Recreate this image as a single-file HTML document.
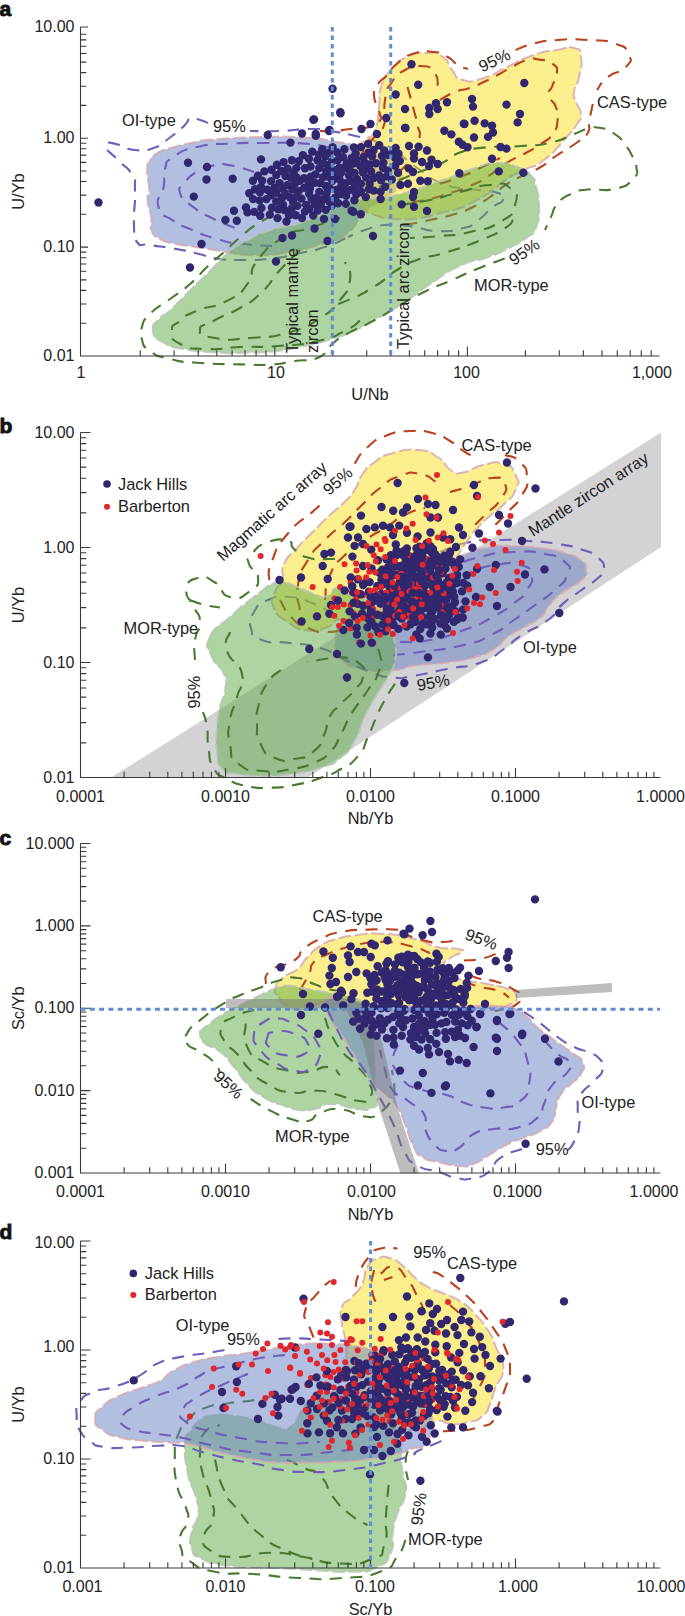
<!DOCTYPE html>
<html><head><meta charset="utf-8"><title>Figure</title>
<style>html,body{margin:0;padding:0;background:#fff}svg{display:block}text{font-family:"Liberation Sans",sans-serif;fill:#222222}</style></head>
<body><svg width="685" height="1616" viewBox="0 0 685 1616">
<rect width="685" height="1616" fill="#fff"/>
<g id="panel_a">
<text x="-0.5" y="16" font-size="21" text-anchor="start" font-weight="bold" style="fill:#111;stroke:#111;stroke-width:0.9px">a</text>
<path d="M147.2 170C147.4 160 146.6 166.7 150 161C153.4 155.3 150.1 157.4 157.4 153C164.7 148.6 160.2 151.2 171.8 147.8C183.4 144.4 178.1 145.5 192.2 142.7C206.3 139.9 190.1 141.4 214 139.5C237.9 137.6 233.7 137.7 264 137C294.3 136.3 282.3 136.2 305 137.5C327.7 138.8 313.7 137.8 332 141C350.3 144.2 342.3 142 360 147C377.7 152 371.7 148.3 385 156C398.3 163.7 395.7 160 400 170C404.3 180 403 176.7 398 186C393 195.3 396 189.3 385 198C374 206.7 378.3 199.7 365 212C351.7 224.3 360.7 224 345 235C329.3 246 339.3 238.8 318 245C296.7 251.2 304.7 250.2 281 253.5C257.3 256.8 265 255.5 247 255C229 254.5 244 254.7 227 252C210 249.3 213 249.7 196 247C179 244.3 188.2 246.7 176 244C163.8 241.3 167.7 243.5 159.5 238.8C151.3 234.1 154.2 236.9 151.5 230C148.8 223.1 152.6 228 151.3 218C150 208 148.2 209 147.5 200C146.8 191 149.4 201 149.3 191C149.2 181 147 180 147.2 170Z" fill="#6880c4" fill-opacity="0.5"/>
<path d="M147.2 170C147.4 160 146.6 166.7 150 161C153.4 155.3 150.1 157.4 157.4 153C164.7 148.6 160.2 151.2 171.8 147.8C183.4 144.4 178.1 145.5 192.2 142.7C206.3 139.9 190.1 141.4 214 139.5C237.9 137.6 233.7 137.7 264 137C294.3 136.3 282.3 136.2 305 137.5C327.7 138.8 313.7 137.8 332 141C350.3 144.2 342.3 142 360 147C377.7 152 371.7 148.3 385 156C398.3 163.7 395.7 160 400 170C404.3 180 403 176.7 398 186C393 195.3 396 189.3 385 198C374 206.7 378.3 199.7 365 212C351.7 224.3 360.7 224 345 235C329.3 246 339.3 238.8 318 245C296.7 251.2 304.7 250.2 281 253.5C257.3 256.8 265 255.5 247 255C229 254.5 244 254.7 227 252C210 249.3 213 249.7 196 247C179 244.3 188.2 246.7 176 244C163.8 241.3 167.7 243.5 159.5 238.8C151.3 234.1 154.2 236.9 151.5 230C148.8 223.1 152.6 228 151.3 218C150 208 148.2 209 147.5 200C146.8 191 149.4 201 149.3 191C149.2 181 147 180 147.2 170Z" fill="none" stroke="#d6a8b0" stroke-width="2" stroke-dasharray="13 3.5" stroke-opacity="0.85"/>
<path d="M398 152C392 149 392.7 148 380 143C367.3 138 376.7 141 360 137C343.3 133 346.7 133.7 330 131C313.3 128.3 326.7 129 310 129C293.3 129 300 130.3 280 131C260 131.7 260 131 250 131" fill="none" stroke="#6f5fb9" stroke-width="2.1" stroke-dasharray="12 8.5" stroke-dashoffset="0" stroke-linecap="butt"/>
<path d="M398 152C405.3 158 404.7 159.3 420 170C435.3 180.7 427.3 177.7 444 184C460.7 190.3 452 186 470 189C488 192 487 189.3 498 193C509 196.7 504.7 195.3 503 200C501.3 204.7 501.7 200 493 207C484.3 214 487 214 477 221C467 228 476.3 224.7 463 228C449.7 231.3 455 231.7 437 231C419 230.3 426.3 228 409 226C391.7 224 399.7 223.7 385 225C370.3 226.3 377.3 226 365 230C352.7 234 353.7 234.7 348 237" fill="none" stroke="#6f5fb9" stroke-width="2.1" stroke-dasharray="12 8.5" stroke-dashoffset="0" stroke-linecap="butt"/>
<path d="M208 123C205.3 122 205.7 121.7 200 120C194.3 118.3 196.3 116 191 118C185.7 120 191 119.5 184 126C177 132.5 179.7 130.3 170 137.5C160.3 144.7 166.7 143.3 155 147.5C143.3 151.7 146.7 150.8 135 150C123.3 149.2 131.7 148 120 145C108.3 142 106.7 142.3 100 141" fill="none" stroke="#6f5fb9" stroke-width="2.1" stroke-dasharray="12 8.5" stroke-dashoffset="0" stroke-linecap="butt"/>
<path d="M107 150C111.3 154 111.7 153.7 120 162C128.3 170.3 127 165.7 132 175C137 184.3 134.3 173.3 135 190C135.7 206.7 133.3 207.7 134 225C134.7 242.3 131.7 235.3 137 242C142.3 248.7 137.8 242.8 150 245C162.2 247.2 157.8 245.7 173.5 248.5C189.2 251.3 182.5 250.2 197 253.5C211.5 256.8 202.3 256.3 217 258.5C231.7 260.7 223 260 241 260C259 260 252 260.7 271 258.5C290 256.3 280 257.3 298 253.5C316 249.7 308.3 252.5 325 247C341.7 241.5 340.3 240.3 348 237" fill="none" stroke="#6f5fb9" stroke-width="2.1" stroke-dasharray="12 8.5" stroke-dashoffset="0" stroke-linecap="butt"/>
<path d="M330 148C321.5 146.5 326.6 145.3 304.6 143.6C282.6 141.9 288.6 143 264 143C239.4 143 253 142.3 230.7 143.6C208.4 144.9 216 142.5 197 147C178 151.5 184.3 149.7 173.6 157C162.9 164.3 168.3 158.8 165 168.8C161.7 178.8 165.8 174.3 163.6 187C161.4 199.7 155.2 195.7 158.5 207C161.8 218.3 163.1 213.5 173.6 220.8C184.1 228.1 175.5 222.9 190 229C204.5 235.1 199 234 217 239C235 244 224.7 241.7 244 244C263.3 246.3 264.7 245.3 275 246" fill="none" stroke="#6f5fb9" stroke-width="2.1" stroke-dasharray="12 8.5" stroke-dashoffset="0" stroke-linecap="butt"/>
<path d="M254 172C246.2 169.8 244 167.6 230.7 165.4C217.4 163.2 225.2 163.2 214 165.4C202.8 167.6 206.5 166.5 197 172C187.5 177.5 190.9 174.7 185.4 182C179.9 189.3 177.6 185.5 180.4 194C183.2 202.5 183.7 199.6 193.8 207.4C203.9 215.2 196.9 210.6 210.6 217.5C224.3 224.4 226.9 224.5 235 228" fill="none" stroke="#6f5fb9" stroke-width="2.1" stroke-dasharray="12 8.5" stroke-dashoffset="0" stroke-linecap="butt"/>
<path d="M349 180C348.3 171 347.7 175 349 165C350.3 155 347.7 158.3 353 150C358.3 141.7 357.7 146.7 365 140C372.3 133.3 370.3 141 375 130C379.7 119 377 121.3 379 107C381 92.7 377 99.3 381 87C385 74.7 382.3 80 391 70C399.7 60 395 62.7 407 57C419 51.3 415 53 427 53C439 53 434.7 51.3 443 57C451.3 62.7 445.3 62.3 452 70C458.7 77.7 452.3 77.3 463 80C473.7 82.7 469.3 82.3 484 78C498.7 73.7 490.3 74.7 507 67C523.7 59.3 517.3 60.7 534 55C550.7 49.3 543.7 52.3 557 50C570.3 47.7 566 45.7 574 48C582 50.3 579.3 47.3 581 57C582.7 66.7 581.3 65.3 579 77C576.7 88.7 575 83.7 574 92C573 100.3 573.7 94.7 576 102C578.3 109.3 580.7 106.7 581 114C581.3 121.3 582.7 115.3 577 124C571.3 132.7 575 128 564 140C553 152 557.3 150 544 160C530.7 170 536.3 163.7 524 170C511.7 176.3 518.3 171.7 507 179C495.7 186.3 501.3 184.3 490 192C478.7 199.7 484 196.3 473 202C462 207.7 468 205.3 457 209C446 212.7 452.3 210 440 213C427.7 216 434.3 216 420 218C405.7 220 412 220 397 219C382 218 387.3 219.3 375 215C362.7 210.7 368 213.7 360 206C352 198.3 354.7 200.7 351 192C347.3 183.3 349.7 189 349 180Z" fill="#f7dd19" fill-opacity="0.5"/>
<path d="M349 180C348.3 171 347.7 175 349 165C350.3 155 347.7 158.3 353 150C358.3 141.7 357.7 146.7 365 140C372.3 133.3 370.3 141 375 130C379.7 119 377 121.3 379 107C381 92.7 377 99.3 381 87C385 74.7 382.3 80 391 70C399.7 60 395 62.7 407 57C419 51.3 415 53 427 53C439 53 434.7 51.3 443 57C451.3 62.7 445.3 62.3 452 70C458.7 77.7 452.3 77.3 463 80C473.7 82.7 469.3 82.3 484 78C498.7 73.7 490.3 74.7 507 67C523.7 59.3 517.3 60.7 534 55C550.7 49.3 543.7 52.3 557 50C570.3 47.7 566 45.7 574 48C582 50.3 579.3 47.3 581 57C582.7 66.7 581.3 65.3 579 77C576.7 88.7 575 83.7 574 92C573 100.3 573.7 94.7 576 102C578.3 109.3 580.7 106.7 581 114C581.3 121.3 582.7 115.3 577 124C571.3 132.7 575 128 564 140C553 152 557.3 150 544 160C530.7 170 536.3 163.7 524 170C511.7 176.3 518.3 171.7 507 179C495.7 186.3 501.3 184.3 490 192C478.7 199.7 484 196.3 473 202C462 207.7 468 205.3 457 209C446 212.7 452.3 210 440 213C427.7 216 434.3 216 420 218C405.7 220 412 220 397 219C382 218 387.3 219.3 375 215C362.7 210.7 368 213.7 360 206C352 198.3 354.7 200.7 351 192C347.3 183.3 349.7 189 349 180Z" fill="none" stroke="#d6a8b0" stroke-width="2" stroke-dasharray="13 3.5" stroke-opacity="0.85"/>
<path d="M320 131C325 131 325 131.7 335 131C345 130.3 339.3 130.2 350 129C360.7 127.8 357.3 129.8 367 127.5C376.7 125.2 375 127.6 379 122C383 116.4 380.7 119.5 379 110.7C377.3 101.9 374.3 104.5 374 95.6C373.7 86.7 373.7 90.7 378 84C382.3 77.3 380.7 82.2 387 75.4C393.3 68.6 388 71 397 63.7C406 56.4 401.7 57.5 414 53.6C426.3 49.7 422.7 50.9 434 52C445.3 53.1 439.9 52.7 447.8 57C455.7 61.3 451.1 61 457.8 65C464.5 69 464.6 67.7 468 69" fill="none" stroke="#b8431e" stroke-width="2.1" stroke-dasharray="12 8.5" stroke-dashoffset="0" stroke-linecap="butt"/>
<path d="M515.6 50C521.7 47.8 520 46.8 534 43.5C548 40.2 539.6 41.2 557.5 40C575.4 38.8 568.7 38.8 587.7 40C606.7 41.2 601.2 39 614.6 43.5C628 48 624.2 45.8 628 53.6C631.8 61.4 632.7 59.2 626 67C619.3 74.8 617.7 69.3 608 77C598.3 84.7 600.7 85.7 597 90" fill="none" stroke="#b8431e" stroke-width="2.1" stroke-dasharray="12 8.5" stroke-dashoffset="0" stroke-linecap="butt"/>
<path d="M592.8 104C591.7 109.6 591.1 111 589.4 120.7C587.7 130.4 591.6 125.9 587.7 133C583.8 140.1 587.8 134.7 577.7 142C567.6 149.3 569.8 146.7 557.5 155C545.2 163.3 551.9 160.3 540.7 167C529.5 173.7 535.2 169.3 524 175C512.8 180.7 518.3 176.7 507 184C495.7 191.3 501.3 189.3 490 197C478.7 204.7 484.7 201.3 473 207C461.3 212.7 469.3 209.7 455 214C440.7 218.3 446.7 216.3 430 220C413.3 223.7 413.3 223.3 405 225" fill="none" stroke="#b8431e" stroke-width="2.1" stroke-dasharray="12 8.5" stroke-dashoffset="0" stroke-linecap="butt"/>
<path d="M365 200C362.7 195 359.7 198.3 358 185C356.3 171.7 355.3 175 360 160C364.7 145 364 151.7 372 140C380 128.3 379.7 138.3 384 125C388.3 111.7 382.3 114.3 385 100C387.7 85.7 385.3 92 392 82C398.7 72 395.7 75.3 405 70C414.3 64.7 410.3 65.3 420 66C429.7 66.7 428 64.7 434 72C440 79.3 436.7 82.7 438 88" fill="none" stroke="#b8431e" stroke-width="2.1" stroke-dasharray="12 8.5" stroke-dashoffset="0" stroke-linecap="butt"/>
<path d="M440 100C445 97.3 445 96 455 92C465 88 460.4 91.3 470 88C479.6 84.7 474.7 86.2 483.7 82C492.7 77.8 487.6 80.4 497 75.4C506.4 70.4 502 72.1 512 67C522 61.9 518 62.5 527 60C536 57.5 530.5 58.4 539 59.6C547.5 60.8 546.5 59 552.5 63.7C558.5 68.4 556.9 66.4 556.9 73.7C556.9 81 555.1 78.2 552.5 85.5C549.9 92.8 547.9 88.4 549 95.6C550.1 102.8 553.1 98.6 555.9 107C558.7 115.4 558.6 111.7 557.5 120.7C556.4 129.7 558.1 126.2 552.5 134C546.9 141.8 550.2 137.3 540.7 144C531.2 150.7 535.2 147.8 524 154C512.8 160.2 518.3 155.7 507 162.7C495.7 169.7 502.3 167.2 490 175C477.7 182.8 483.3 180 470 186C456.7 192 465 188.3 450 193C435 197.7 441.7 196.3 425 200C408.3 203.7 408.3 202.7 400 204" fill="none" stroke="#b8431e" stroke-width="2.1" stroke-dasharray="12 8.5" stroke-dashoffset="0" stroke-linecap="butt"/>
<path d="M407.5 87C409.7 94.9 410.7 98 414 110.7C417.3 123.4 415.8 115.2 417.5 125C419.2 134.8 421.5 128.3 419 140C416.5 151.7 418 148.3 410 160C402 171.7 400 170 395 175" fill="none" stroke="#b8431e" stroke-width="2.1" stroke-dasharray="12 8.5" stroke-dashoffset="0" stroke-linecap="butt"/>
<path d="M440 183.8C446.7 181.5 446.7 182.3 460 177C473.3 171.7 466.7 174.3 480 168C493.3 161.7 493.3 161.3 500 158" fill="none" stroke="#b8431e" stroke-width="2.1" stroke-dasharray="12 8.5" stroke-dashoffset="0" stroke-linecap="butt"/>
<path d="M153 331C151.8 322.8 154.3 324.8 160 318C165.7 311.2 160 319.7 170 310.5C180 301.3 176.5 303.8 190 290.5C203.5 277.2 198 282.8 210.5 270.5C223 258.2 215.2 263.7 227.5 253.5C239.8 243.3 233 247.8 247.5 240C262 232.2 254.2 235.5 271 230C287.8 224.5 280 229.2 298 223.5C316 217.8 307.7 220.2 325 213C342.3 205.8 333.3 207 350 202C366.7 197 358.7 200.5 375 198C391.3 195.5 377.3 200.2 399 194.5C420.7 188.8 415.2 189.7 440 181C464.8 172.3 454.5 174.5 473.5 168.5C492.5 162.5 482.5 163.5 497 163C511.5 162.5 505.7 162.8 517 167C528.3 171.2 524.7 168.8 531 175.5C537.3 182.2 533.3 176.5 536 187C538.7 197.5 539 193.5 539 207C539 220.5 540 217.3 536 227.5C532 237.7 536.7 230.3 527 237.5C517.3 244.7 520.3 242.3 507 249C493.7 255.7 502.7 251.8 487 257.5C471.3 263.2 478.8 257.2 460 266C441.2 274.8 448.2 272.5 430.5 284C412.8 295.5 423.8 289.5 407 300.5C390.2 311.5 397.8 306.8 380 317C362.2 327.2 369.7 323.7 353.5 331C337.3 338.3 347.8 334 331.5 339C315.2 344 322.5 342 304.5 346C286.5 350 295.3 348.8 277.5 351C259.7 353.2 271.2 352 251 352.5C230.8 353 239.5 353.7 217 352.5C194.5 351.3 201.3 352.3 183.5 349C165.7 345.7 173.7 348.5 163.5 342.5C153.3 336.5 154.2 339.2 153 331Z" fill="#5ea945" fill-opacity="0.5"/>
<path d="M153 331C151.8 322.8 154.3 324.8 160 318C165.7 311.2 160 319.7 170 310.5C180 301.3 176.5 303.8 190 290.5C203.5 277.2 198 282.8 210.5 270.5C223 258.2 215.2 263.7 227.5 253.5C239.8 243.3 233 247.8 247.5 240C262 232.2 254.2 235.5 271 230C287.8 224.5 280 229.2 298 223.5C316 217.8 307.7 220.2 325 213C342.3 205.8 333.3 207 350 202C366.7 197 358.7 200.5 375 198C391.3 195.5 377.3 200.2 399 194.5C420.7 188.8 415.2 189.7 440 181C464.8 172.3 454.5 174.5 473.5 168.5C492.5 162.5 482.5 163.5 497 163C511.5 162.5 505.7 162.8 517 167C528.3 171.2 524.7 168.8 531 175.5C537.3 182.2 533.3 176.5 536 187C538.7 197.5 539 193.5 539 207C539 220.5 540 217.3 536 227.5C532 237.7 536.7 230.3 527 237.5C517.3 244.7 520.3 242.3 507 249C493.7 255.7 502.7 251.8 487 257.5C471.3 263.2 478.8 257.2 460 266C441.2 274.8 448.2 272.5 430.5 284C412.8 295.5 423.8 289.5 407 300.5C390.2 311.5 397.8 306.8 380 317C362.2 327.2 369.7 323.7 353.5 331C337.3 338.3 347.8 334 331.5 339C315.2 344 322.5 342 304.5 346C286.5 350 295.3 348.8 277.5 351C259.7 353.2 271.2 352 251 352.5C230.8 353 239.5 353.7 217 352.5C194.5 351.3 201.3 352.3 183.5 349C165.7 345.7 173.7 348.5 163.5 342.5C153.3 336.5 154.2 339.2 153 331Z" fill="none" stroke="#b9c4b4" stroke-width="2" stroke-dasharray="13 3.5" stroke-opacity="0.85"/>
<path d="M504.6 258.6C495.6 262 495.6 261.4 477.7 268.7C459.8 276 468.9 272.6 451 280.4C433.1 288.2 442 283.1 424 292C406 300.9 413.8 297.4 397 307C380.2 316.6 390.3 311.7 373.6 320.7C356.9 329.7 361.3 325.6 346.8 334C332.3 342.4 339.6 338.1 330 346C320.4 353.9 329.8 352.7 318 357.7C306.2 362.7 310.2 358.8 294.5 361C278.8 363.2 288.9 363.3 271 364.4C253.1 365.5 265.5 365 240.8 364.4C216.1 363.8 220.6 364.5 197 362.7C173.4 360.9 185.7 362.9 170 359C154.3 355.1 159.4 357.7 150 351C140.6 344.3 144.5 346.8 141.8 339C139.1 331.2 139.1 335.8 141.8 327.5C144.5 319.2 140.6 323.5 150 314C159.4 304.5 156.5 309.1 170 299C183.5 288.9 178.1 294.5 190.4 283.8C202.7 273.1 195.8 277.6 207 267C218.2 256.4 212.7 262.1 224 252C235.3 241.9 229.1 246.5 240.8 236.8C252.5 227.1 245.3 231.3 259 223C272.7 214.7 266.7 218.3 282 212C297.3 205.7 289.7 208.8 305 204C320.3 199.2 313 201.2 328 197.5C343 193.8 332 196.8 350 193C368 189.2 365.7 190.3 382 186C398.3 181.7 386.7 184.7 399 180C411.3 175.3 407.3 176.3 419 172C430.7 167.7 425.7 170.3 434 167C442.3 163.7 435.3 166.8 444 162C452.7 157.2 446.8 157.4 460 152.6C473.2 147.8 463 149.8 483.7 147.6C504.4 145.4 499.6 147.7 522 146C544.4 144.3 533.5 146.6 550.8 142.6C568.1 138.6 561.7 138.5 574 134C586.3 129.5 578.7 131 587.7 129C596.7 127 592 126.3 601 128C610 129.7 606.7 128.7 614.6 134C622.5 139.3 618.6 136.1 624.7 144C630.8 151.9 629.1 150 633 157.7C636.9 165.4 636.4 160 636.4 167C636.4 174 640.3 171.5 633 178.8C625.7 186.1 629.7 185.2 614.6 188.8C599.5 192.4 602.2 187.8 587.7 189.5C573.2 191.2 581.1 189.2 571 194C560.9 198.8 564.2 196.2 557.5 204C550.8 211.8 555 208.7 550.8 217.4C546.6 226.1 546.9 225.8 545 230" fill="none" stroke="#4a7a32" stroke-width="2.1" stroke-dasharray="12 8.5" stroke-dashoffset="0" stroke-linecap="butt"/>
<path d="M513 220C510.2 222.8 515.3 221.7 504.6 228.4C493.9 235.1 500 232.1 481 240C462 247.9 468.8 245.3 447.5 252C426.2 258.7 433.8 254 417 260C400.2 266 411.5 261 397 270C382.5 279 390.3 276.8 373.6 287C356.9 297.2 361.3 294.4 346.8 300.6C332.3 306.8 335.6 303.9 330 305.6" fill="none" stroke="#4a7a32" stroke-width="2.1" stroke-dasharray="12 8.5" stroke-dashoffset="0" stroke-linecap="butt"/>
<path d="M360 320.7C355 324.1 359 324 345 330.8C331 337.6 340.4 335.9 318 341C295.6 346.1 303.4 344 277.7 346C252 348 264.4 346 240.8 347C217.2 348 227.1 350 207 349C186.9 348 192.1 350.1 180.4 344C168.7 337.9 172 338.6 172 330.8C172 323 172.1 327.4 180.4 320.7C188.7 314 181.3 317.4 197 310.7C212.7 304 210.6 309.6 227.4 300.6C244.2 291.6 237.4 297.2 247.5 283.8C257.6 270.4 245.3 276 257.6 260.3C269.9 244.6 267 247.6 284.5 236.8C302 226 291.5 234.3 310 228C328.5 221.7 330 221.3 340 218" fill="none" stroke="#4a7a32" stroke-width="2.1" stroke-dasharray="12 8.5" stroke-dashoffset="0" stroke-linecap="butt"/>
<path d="M300 250C293.3 256.7 292.7 256 280 270C267.3 284 275.3 279.3 262 292C248.7 304.7 255.7 298.7 240 308C224.3 317.3 228.3 312.7 215 320C201.7 327.3 200 324 200 330C200 336 198.3 335.3 215 338C231.7 340.7 225 340 250 338C275 336 266.7 338.7 290 332C313.3 325.3 303.3 328.7 320 318C336.7 307.3 330 312.7 340 300C350 287.3 348.3 292.7 350 280C351.7 267.3 346.7 268 345 262" fill="none" stroke="#4a7a32" stroke-width="2.1" stroke-dasharray="12 8.5" stroke-dashoffset="0" stroke-linecap="butt"/>
<path d="M400 205C410 203.3 410 204.3 430 200C450 195.7 440 197 460 192C480 187 473.3 186.3 490 185C506.7 183.7 501.7 181.3 510 188C518.3 194.7 518.3 193.7 515 205C511.7 216.3 515 213 500 222C485 231 490 227.3 470 232C450 236.7 460 234 440 236C420 238 420 237.3 410 238" fill="none" stroke="#4a7a32" stroke-width="2.1" stroke-dasharray="12 8.5" stroke-dashoffset="0" stroke-linecap="butt"/>
<g stroke="#3a3a3a" stroke-width="1.1" fill="none">
<path d="M80.5 27V356H659.5"/>
<path d="M140.2 356v-5.8M174.1 356v-5.8M198.2 356v-5.8M216.8 356v-5.8M232.1 356v-5.8M245 356v-5.8M256.1 356v-5.8M266 356v-5.8M274.8 356v-9.5M332.8 356v-5.8M366.7 356v-5.8M390.8 356v-5.8M409.4 356v-5.8M424.7 356v-5.8M437.6 356v-5.8M448.7 356v-5.8M458.6 356v-5.8M467.4 356v-9.5M525.4 356v-5.8M559.3 356v-5.8M583.4 356v-5.8M602 356v-5.8M617.3 356v-5.8M630.2 356v-5.8M641.3 356v-5.8M651.2 356v-5.8M80.5 323.2h5.8M80.5 304h5.8M80.5 290.4h5.8M80.5 279.9h5.8M80.5 271.3h5.8M80.5 264h5.8M80.5 257.7h5.8M80.5 252.1h5.8M80.5 247.1h7.5M80.5 214.3h5.8M80.5 195.1h5.8M80.5 181.5h5.8M80.5 171h5.8M80.5 162.4h5.8M80.5 155.1h5.8M80.5 148.8h5.8M80.5 143.2h5.8M80.5 138.2h7.5M80.5 105.4h5.8M80.5 86.2h5.8M80.5 72.6h5.8M80.5 62.1h5.8M80.5 53.5h5.8M80.5 46.2h5.8M80.5 39.9h5.8M80.5 34.3h5.8M80.5 27h7.5"/>
</g>
<text x="81" y="378" font-size="16" text-anchor="middle">1</text>
<text x="276" y="378" font-size="16" text-anchor="middle">10</text>
<text x="466.5" y="378" font-size="16" text-anchor="middle">100</text>
<text x="652" y="378" font-size="16" text-anchor="middle">1,000</text>
<text x="74.5" y="361" font-size="16" text-anchor="end">0.01</text>
<text x="74.5" y="252.1" font-size="16" text-anchor="end">0.10</text>
<text x="74.5" y="143.2" font-size="16" text-anchor="end">1.00</text>
<text x="74.5" y="32" font-size="16" text-anchor="end">10.00</text>
<text x="370" y="400" font-size="16.4" text-anchor="middle">U/Nb</text>
<text x="24" y="191.5" font-size="16.4" text-anchor="middle" transform="rotate(-90 24 191.5)">U/Yb</text>
<g fill="#30276f"><circle cx="98.5" cy="202.5" r="4.2"/><circle cx="190" cy="267.5" r="4.2"/><circle cx="201.5" cy="244" r="4.2"/><circle cx="276" cy="261.5" r="4.2"/><circle cx="282.5" cy="238" r="4.2"/><circle cx="292" cy="235.5" r="4.2"/><circle cx="314.5" cy="228.5" r="4.2"/><circle cx="327.5" cy="241" r="4.2"/><circle cx="188" cy="162.7" r="4.2"/><circle cx="207" cy="167" r="4.2"/><circle cx="206.5" cy="179.5" r="4.2"/><circle cx="232.7" cy="178.8" r="4.2"/><circle cx="193.8" cy="196.6" r="4.2"/><circle cx="261" cy="159.4" r="4.2"/><circle cx="277" cy="164.7" r="4.2"/><circle cx="290.5" cy="142.6" r="4.2"/><circle cx="267.7" cy="135" r="4.2"/><circle cx="302" cy="133.5" r="4.2"/><circle cx="315.7" cy="134" r="4.2"/><circle cx="314" cy="119.4" r="4.2"/><circle cx="340.5" cy="113.4" r="4.2"/><circle cx="329" cy="131" r="4.2"/><circle cx="225.4" cy="220" r="4.2"/><circle cx="234" cy="210.7" r="4.2"/><circle cx="236.8" cy="220.8" r="4.2"/><circle cx="246" cy="207.4" r="4.2"/><circle cx="247.5" cy="212.4" r="4.2"/><circle cx="286.5" cy="221.5" r="4.2"/><circle cx="324" cy="219" r="4.2"/><circle cx="335" cy="219" r="4.2"/><circle cx="351.6" cy="210.7" r="4.2"/><circle cx="373" cy="236" r="4.2"/><circle cx="353.3" cy="211.8" r="4.2"/><circle cx="360.8" cy="214.3" r="4.2"/><circle cx="380.6" cy="199" r="4.2"/><circle cx="401.7" cy="204.4" r="4.2"/><circle cx="414" cy="206.8" r="4.2"/><circle cx="427" cy="211" r="4.2"/><circle cx="414" cy="192" r="4.2"/><circle cx="413" cy="197" r="4.2"/><circle cx="420.3" cy="180.8" r="4.2"/><circle cx="427.8" cy="181.3" r="4.2"/><circle cx="400.5" cy="185" r="4.2"/><circle cx="408" cy="183.8" r="4.2"/><circle cx="391.8" cy="179.5" r="4.2"/><circle cx="408.7" cy="168.4" r="4.2"/><circle cx="413" cy="172" r="4.2"/><circle cx="409" cy="146" r="4.2"/><circle cx="418.6" cy="146.8" r="4.2"/><circle cx="427" cy="150.5" r="4.2"/><circle cx="414" cy="153.5" r="4.2"/><circle cx="414" cy="158.5" r="4.2"/><circle cx="422" cy="162" r="4.2"/><circle cx="431.5" cy="159.7" r="4.2"/><circle cx="429" cy="166" r="4.2"/><circle cx="437.7" cy="164" r="4.2"/><circle cx="459.3" cy="173.3" r="4.2"/><circle cx="405.5" cy="128" r="4.2"/><circle cx="463.8" cy="123.7" r="4.2"/><circle cx="444.4" cy="130.7" r="4.2"/><circle cx="451.4" cy="134.4" r="4.2"/><circle cx="458.8" cy="141.8" r="4.2"/><circle cx="462.5" cy="144.8" r="4.2"/><circle cx="467.5" cy="147.3" r="4.2"/><circle cx="411.5" cy="64.3" r="4.2"/><circle cx="418.2" cy="84.8" r="4.2"/><circle cx="395.7" cy="94.5" r="4.2"/><circle cx="405" cy="109" r="4.2"/><circle cx="405" cy="128" r="4.2"/><circle cx="429.3" cy="108" r="4.2"/><circle cx="436" cy="103.3" r="4.2"/><circle cx="437.7" cy="109" r="4.2"/><circle cx="429.3" cy="114" r="4.2"/><circle cx="447" cy="102.3" r="4.2"/><circle cx="472" cy="99" r="4.2"/><circle cx="473" cy="106.6" r="4.2"/><circle cx="464.5" cy="124" r="4.2"/><circle cx="474.6" cy="120.7" r="4.2"/><circle cx="484.7" cy="123.4" r="4.2"/><circle cx="492" cy="125.8" r="4.2"/><circle cx="493" cy="132.5" r="4.2"/><circle cx="488" cy="136.9" r="4.2"/><circle cx="474" cy="137.5" r="4.2"/><circle cx="500.5" cy="147" r="4.2"/><circle cx="506.5" cy="148.6" r="4.2"/><circle cx="492" cy="158.7" r="4.2"/><circle cx="506.5" cy="104.6" r="4.2"/><circle cx="520" cy="114" r="4.2"/><circle cx="517.6" cy="122.4" r="4.2"/><circle cx="524.3" cy="83" r="4.2"/><circle cx="332.6" cy="88.8" r="4.2"/><circle cx="340.3" cy="112.3" r="4.2"/><circle cx="313.4" cy="119.7" r="4.2"/><circle cx="329.5" cy="130" r="4.2"/><circle cx="315.8" cy="135.9" r="4.2"/><circle cx="361.5" cy="129" r="4.2"/><circle cx="370.5" cy="124" r="4.2"/><circle cx="386.3" cy="118" r="4.2"/><circle cx="377" cy="134" r="4.2"/><circle cx="395.7" cy="148" r="4.2"/><circle cx="395" cy="157.7" r="4.2"/><circle cx="498.8" cy="171.4" r="4.2"/><circle cx="523.3" cy="172.7" r="4.2"/><circle cx="282.1" cy="197.8" r="4.2"/><circle cx="364.6" cy="162.8" r="4.2"/><circle cx="276.4" cy="192.9" r="4.2"/><circle cx="350.4" cy="189.9" r="4.2"/><circle cx="276.3" cy="175.1" r="4.2"/><circle cx="357" cy="179.1" r="4.2"/><circle cx="323.1" cy="177.3" r="4.2"/><circle cx="293.5" cy="172.7" r="4.2"/><circle cx="332.2" cy="181" r="4.2"/><circle cx="314.5" cy="182.7" r="4.2"/><circle cx="341.1" cy="186.5" r="4.2"/><circle cx="371.1" cy="171.5" r="4.2"/><circle cx="261.4" cy="208" r="4.2"/><circle cx="271.1" cy="195.3" r="4.2"/><circle cx="298.7" cy="191" r="4.2"/><circle cx="355.7" cy="153.4" r="4.2"/><circle cx="319.3" cy="191.9" r="4.2"/><circle cx="325.8" cy="186" r="4.2"/><circle cx="328.3" cy="165.3" r="4.2"/><circle cx="346.8" cy="163.2" r="4.2"/><circle cx="398.5" cy="153.8" r="4.2"/><circle cx="354.5" cy="172.9" r="4.2"/><circle cx="366.1" cy="168" r="4.2"/><circle cx="379.1" cy="175.4" r="4.2"/><circle cx="351.3" cy="181.1" r="4.2"/><circle cx="339.7" cy="179.9" r="4.2"/><circle cx="332.9" cy="170" r="4.2"/><circle cx="287.4" cy="185.1" r="4.2"/><circle cx="356.3" cy="194.3" r="4.2"/><circle cx="369.6" cy="184.1" r="4.2"/><circle cx="373.7" cy="178" r="4.2"/><circle cx="335.2" cy="197.7" r="4.2"/><circle cx="301.5" cy="198.6" r="4.2"/><circle cx="369.9" cy="164.5" r="4.2"/><circle cx="384.2" cy="150.4" r="4.2"/><circle cx="330.4" cy="188.8" r="4.2"/><circle cx="363.5" cy="157.2" r="4.2"/><circle cx="331.6" cy="206" r="4.2"/><circle cx="299.8" cy="180.7" r="4.2"/><circle cx="361" cy="191.8" r="4.2"/><circle cx="255" cy="189.2" r="4.2"/><circle cx="349.4" cy="169.4" r="4.2"/><circle cx="308.7" cy="181.8" r="4.2"/><circle cx="383.4" cy="162.6" r="4.2"/><circle cx="305" cy="168.2" r="4.2"/><circle cx="383.1" cy="168" r="4.2"/><circle cx="266.5" cy="199.1" r="4.2"/><circle cx="317.5" cy="160.3" r="4.2"/><circle cx="297.3" cy="205.9" r="4.2"/><circle cx="271.9" cy="207.8" r="4.2"/><circle cx="279.6" cy="183.1" r="4.2"/><circle cx="319.2" cy="168.1" r="4.2"/><circle cx="386.7" cy="176.4" r="4.2"/><circle cx="314.8" cy="204.2" r="4.2"/><circle cx="372.1" cy="156.3" r="4.2"/><circle cx="306.2" cy="204.9" r="4.2"/><circle cx="344.7" cy="190.1" r="4.2"/><circle cx="353.3" cy="163.5" r="4.2"/><circle cx="360.9" cy="184" r="4.2"/><circle cx="361.1" cy="147.1" r="4.2"/><circle cx="304.9" cy="211.6" r="4.2"/><circle cx="335.1" cy="175.1" r="4.2"/><circle cx="310.5" cy="166.5" r="4.2"/><circle cx="309.2" cy="209" r="4.2"/><circle cx="349" cy="175.3" r="4.2"/><circle cx="319.9" cy="183.1" r="4.2"/><circle cx="339.3" cy="167.6" r="4.2"/><circle cx="296.2" cy="177.1" r="4.2"/><circle cx="285.5" cy="176" r="4.2"/><circle cx="315.5" cy="174.5" r="4.2"/><circle cx="304.4" cy="187.7" r="4.2"/><circle cx="326.3" cy="193.7" r="4.2"/><circle cx="278.3" cy="209.3" r="4.2"/><circle cx="340.9" cy="173.1" r="4.2"/><circle cx="382" cy="156" r="4.2"/><circle cx="373.6" cy="150" r="4.2"/><circle cx="310.8" cy="176.6" r="4.2"/><circle cx="308.9" cy="158.8" r="4.2"/><circle cx="260" cy="192.3" r="4.2"/><circle cx="366.1" cy="177.6" r="4.2"/><circle cx="340.8" cy="194" r="4.2"/><circle cx="351.6" cy="158.2" r="4.2"/><circle cx="354.4" cy="200.2" r="4.2"/><circle cx="282.5" cy="188.4" r="4.2"/><circle cx="328.8" cy="176.7" r="4.2"/><circle cx="381.1" cy="180.2" r="4.2"/><circle cx="283" cy="204.7" r="4.2"/><circle cx="311.5" cy="198.8" r="4.2"/><circle cx="298.8" cy="161.2" r="4.2"/><circle cx="376" cy="163.3" r="4.2"/><circle cx="271.1" cy="181.2" r="4.2"/><circle cx="354.9" cy="186.6" r="4.2"/><circle cx="309.2" cy="193.9" r="4.2"/><circle cx="320.8" cy="204.4" r="4.2"/><circle cx="368.9" cy="189.3" r="4.2"/><circle cx="290" cy="197.3" r="4.2"/><circle cx="276.2" cy="201.4" r="4.2"/><circle cx="331.9" cy="161.4" r="4.2"/><circle cx="326.2" cy="171.1" r="4.2"/><circle cx="274.6" cy="187.9" r="4.2"/><circle cx="318.7" cy="154.8" r="4.2"/><circle cx="342.9" cy="157.1" r="4.2"/><circle cx="346.2" cy="195.9" r="4.2"/><circle cx="337.7" cy="160.1" r="4.2"/><circle cx="309.9" cy="188.8" r="4.2"/><circle cx="285" cy="210.2" r="4.2"/><circle cx="356.5" cy="159.6" r="4.2"/><circle cx="399.8" cy="161" r="4.2"/><circle cx="285.4" cy="193.4" r="4.2"/><circle cx="373.8" cy="190.6" r="4.2"/><circle cx="296.3" cy="168.1" r="4.2"/><circle cx="328.9" cy="153" r="4.2"/><circle cx="362.8" cy="172.2" r="4.2"/><circle cx="293.2" cy="202.5" r="4.2"/><circle cx="295.1" cy="183.4" r="4.2"/><circle cx="325.2" cy="156.6" r="4.2"/><circle cx="295.4" cy="197.1" r="4.2"/><circle cx="336.6" cy="189.9" r="4.2"/><circle cx="287.6" cy="168.8" r="4.2"/><circle cx="323.6" cy="199.1" r="4.2"/><circle cx="253.1" cy="199.1" r="4.2"/><circle cx="337.3" cy="152.5" r="4.2"/><circle cx="290.8" cy="177.8" r="4.2"/><circle cx="316.6" cy="197.8" r="4.2"/><circle cx="360.3" cy="166" r="4.2"/><circle cx="345.7" cy="183.1" r="4.2"/><circle cx="344.5" cy="167.8" r="4.2"/><circle cx="261" cy="187.3" r="4.2"/><circle cx="329.1" cy="201.2" r="4.2"/><circle cx="387.9" cy="155.1" r="4.2"/><circle cx="323.2" cy="163.4" r="4.2"/><circle cx="388" cy="170.8" r="4.2"/><circle cx="344.4" cy="149.3" r="4.2"/><circle cx="304.1" cy="178.2" r="4.2"/><circle cx="291.8" cy="208.5" r="4.2"/><circle cx="392.6" cy="152.3" r="4.2"/><circle cx="338.1" cy="203.3" r="4.2"/><circle cx="368.4" cy="152.8" r="4.2"/><circle cx="317.7" cy="210.5" r="4.2"/><circle cx="353.9" cy="147.5" r="4.2"/><circle cx="398" cy="172.7" r="4.2"/><circle cx="365.8" cy="197.1" r="4.2"/><circle cx="295.7" cy="215.2" r="4.2"/><circle cx="252.9" cy="180.7" r="4.2"/><circle cx="262.2" cy="180.7" r="4.2"/><circle cx="313.2" cy="215.5" r="4.2"/><circle cx="385.3" cy="186.7" r="4.2"/><circle cx="281.3" cy="170.9" r="4.2"/><circle cx="260.2" cy="215.7" r="4.2"/><circle cx="277.5" cy="218.1" r="4.2"/><circle cx="325.7" cy="209.9" r="4.2"/><circle cx="283.6" cy="162.1" r="4.2"/><circle cx="269.8" cy="214.6" r="4.2"/><circle cx="264.4" cy="171.4" r="4.2"/><circle cx="254.2" cy="211.9" r="4.2"/><circle cx="395.2" cy="165.8" r="4.2"/><circle cx="289.1" cy="215.4" r="4.2"/><circle cx="379.2" cy="145.2" r="4.2"/><circle cx="322.3" cy="149.3" r="4.2"/><circle cx="345.8" cy="203.9" r="4.2"/><circle cx="271.5" cy="169.8" r="4.2"/><circle cx="312.2" cy="151.6" r="4.2"/><circle cx="259.7" cy="200.4" r="4.2"/><circle cx="291.9" cy="160.2" r="4.2"/><circle cx="368.1" cy="143.9" r="4.2"/><circle cx="302.9" cy="155.3" r="4.2"/><circle cx="292.4" cy="189.3" r="4.2"/><circle cx="267.4" cy="189.7" r="4.2"/><circle cx="332.6" cy="147.3" r="4.2"/><circle cx="380.6" cy="191.6" r="4.2"/><circle cx="257.9" cy="175.7" r="4.2"/><circle cx="249.3" cy="193.2" r="4.2"/><circle cx="302" cy="218" r="4.2"/></g>
<path d="M332.3 27V356" stroke="#628bd0" stroke-width="3" stroke-dasharray="4.5 4" fill="none"/>
<path d="M390.7 27V356" stroke="#628bd0" stroke-width="3" stroke-dasharray="4.5 4" fill="none"/>
<text x="122" y="126" font-size="16.4" text-anchor="start">OI-type</text>
<text x="213" y="132" font-size="16.4" text-anchor="start">95%</text>
<text x="597" y="108" font-size="16.4" text-anchor="start">CAS-type</text>
<text x="474" y="290.5" font-size="16.4" text-anchor="start">MOR-type</text>
<text x="482" y="72.5" font-size="16.4" text-anchor="start" transform="rotate(-25 482 72.5)">95%</text>
<text x="514" y="266" font-size="16.4" text-anchor="start" transform="rotate(-35 514 266)">95%</text>
<text x="298" y="353" font-size="16.4" text-anchor="start" transform="rotate(-90 298 353)">Typical mantle</text>
<text x="318" y="353" font-size="16.4" text-anchor="start" transform="rotate(-90 318 353)">zircon</text>
<text x="409" y="349" font-size="16.4" text-anchor="start" transform="rotate(-90 409 349)">Typical arc zircon</text>
</g>
<g id="panel_b">
<text x="-0.5" y="433" font-size="21" text-anchor="start" font-weight="bold" style="fill:#111;stroke:#111;stroke-width:0.9px">b</text>
<path d="M111 777.5 L661 432.5 L661 547 L308 777.5" fill="#d3d3d5"/>
<path d="M336 637C337.3 625.3 335.3 632.3 345 622C354.7 611.7 348.3 617.3 365 606C381.7 594.7 373.3 600 395 588C416.7 576 407.3 581 430 570C452.7 559 443.7 562.5 463 555C482.3 547.5 471.3 550.5 488 547.5C504.7 544.5 494.7 545.7 513 546C531.3 546.3 526.3 546.3 543 548.5C559.7 550.7 550.5 548.7 563 552.5C575.5 556.3 572.8 554.2 580.5 560C588.2 565.8 585.7 563.3 586 570C586.3 576.7 589.8 572.1 581.5 580C573.2 587.9 572.2 584.6 561 593.6C549.8 602.6 554.7 599.2 548 607C541.3 614.8 548.9 610.3 541 617C533.1 623.7 535.5 620.3 524.4 627C513.3 633.7 517.7 629.7 507.6 637C497.5 644.3 505.2 642.2 494 649C482.8 655.8 489.7 652.9 474 657.4C458.3 661.9 467.1 659.6 447 662.4C426.9 665.2 430.9 663.3 413.6 665.8C396.3 668.3 412.5 668.9 395 670C377.5 671.1 379 673.3 361 669C343 664.7 349.3 667.7 341 657C332.7 646.3 334.7 648.7 336 637Z" fill="#6880c4" fill-opacity="0.5"/>
<path d="M336 637C337.3 625.3 335.3 632.3 345 622C354.7 611.7 348.3 617.3 365 606C381.7 594.7 373.3 600 395 588C416.7 576 407.3 581 430 570C452.7 559 443.7 562.5 463 555C482.3 547.5 471.3 550.5 488 547.5C504.7 544.5 494.7 545.7 513 546C531.3 546.3 526.3 546.3 543 548.5C559.7 550.7 550.5 548.7 563 552.5C575.5 556.3 572.8 554.2 580.5 560C588.2 565.8 585.7 563.3 586 570C586.3 576.7 589.8 572.1 581.5 580C573.2 587.9 572.2 584.6 561 593.6C549.8 602.6 554.7 599.2 548 607C541.3 614.8 548.9 610.3 541 617C533.1 623.7 535.5 620.3 524.4 627C513.3 633.7 517.7 629.7 507.6 637C497.5 644.3 505.2 642.2 494 649C482.8 655.8 489.7 652.9 474 657.4C458.3 661.9 467.1 659.6 447 662.4C426.9 665.2 430.9 663.3 413.6 665.8C396.3 668.3 412.5 668.9 395 670C377.5 671.1 379 673.3 361 669C343 664.7 349.3 667.7 341 657C332.7 646.3 334.7 648.7 336 637Z" fill="none" stroke="#d6a8b0" stroke-width="2" stroke-dasharray="13 3.5" stroke-opacity="0.85"/>
<path d="M440 552C449.3 548.8 448 546.5 468 542.5C488 538.5 480 540.5 500 540C520 539.5 508.7 539.7 528 541C547.3 542.3 539.7 541 558 544C576.3 547 569.7 545.5 583 550C596.3 554.5 591 550.8 598 557.5C605 564.2 604 563.2 604 570C604 576.8 605.5 571.3 598 578C590.5 584.7 593.2 581.5 581.5 590C569.8 598.5 574.2 593.6 563 603.6C551.8 613.6 562 609.3 548 620C534 630.7 535.7 625.9 521 635.6C506.3 645.3 517.4 640.1 504 649C490.6 657.9 499.7 655.7 480.7 662.4C461.7 669.1 469.4 664.5 447 669C424.6 673.5 431.6 673 413.6 675.8C395.6 678.6 407.5 678.8 393 677.5C378.5 676.2 386 677.8 370 672C354 666.2 361.7 668 345 660C328.3 652 338.3 653.7 320 648C301.7 642.3 309.3 645.7 290 643C270.7 640.3 275 645 262 640C249 635 253.7 637.3 251 628C248.3 618.7 248.3 621.3 254 612C259.7 602.7 256 605 268 600C280 595 275.3 596 290 597C304.7 598 298.7 598 312 603C325.3 608 324 609 330 612" fill="none" stroke="#6f5fb9" stroke-width="2.1" stroke-dasharray="12 8.5" stroke-dashoffset="0" stroke-linecap="butt"/>
<path d="M393 655C402 654 396.3 655.3 420 652C443.7 648.7 440.3 650.7 464 645C487.7 639.3 474.3 643.3 491 635C507.7 626.7 499.3 630 514 620C528.7 610 521.3 615 535 605C548.7 595 544.3 600 555 590C565.7 580 563.7 584.3 567 575C570.3 565.7 572.3 569 565 562C557.7 555 561.7 557.3 545 554C528.3 550.7 536.7 551 515 552C493.3 553 501.7 551.7 480 557C458.3 562.3 460 564.3 450 568" fill="none" stroke="#6f5fb9" stroke-width="2.1" stroke-dasharray="12 8.5" stroke-dashoffset="0" stroke-linecap="butt"/>
<path d="M400 642C410 641.3 408.7 644 430 640C451.3 636 443.7 637.3 464 630C484.3 622.7 474.3 627 491 618C507.7 609 502 612.3 514 603C526 593.7 521.3 599.3 527 590C532.7 580.7 533.3 583.3 531 575C528.7 566.7 532 568.3 520 565C508 561.7 511.7 562.7 495 565C478.3 567.3 478.3 569.7 470 572" fill="none" stroke="#6f5fb9" stroke-width="2.1" stroke-dasharray="12 8.5" stroke-dashoffset="0" stroke-linecap="butt"/>
<path d="M282.4 580C285.4 570.7 279 574.8 284 564C289 553.2 287.5 558.6 297.5 547.5C307.5 536.4 303.9 540.9 314 530.7C324.1 520.5 317.5 526.6 327.7 517C337.9 507.4 335.5 511 344.5 502C353.5 493 348.4 499.5 354.6 490C360.8 480.5 356.3 482.9 363 473.6C369.7 464.3 365.3 468.7 374.8 462C384.3 455.3 377.1 457.5 391.5 453.5C405.9 449.5 402.5 448.7 418 450C433.5 451.3 427.2 450.8 438 457.5C448.8 464.2 442.2 465 450.5 470C458.8 475 452.2 474.2 463 472.5C473.8 470.8 469.7 467.8 483 465C496.3 462.2 492.2 460.7 503 464C513.8 467.3 511.3 466.3 515.5 475C519.7 483.7 519.7 480 515.5 490C511.3 500 512.2 495.8 503 505C493.8 514.2 496.3 510 488 517.5C479.7 525 484.7 520 478 527.5C471.3 535 475.7 529.2 468 540C460.3 550.8 464.3 545 455 560C445.7 575 451.7 570 440 585C428.3 600 435 594 420 605C405 616 413.3 612.3 395 618C376.7 623.7 383 621.7 365 622C347 622.3 353.4 617.3 341 619C328.6 620.7 338.8 623.2 327.7 627C316.6 630.8 321 632.2 307.6 630.5C294.2 628.8 298.7 629.5 287.5 622C276.3 614.5 278.2 618 274 608C269.8 598 272.2 601.3 275 592C277.8 582.7 279.4 589.3 282.4 580Z" fill="#f7dd19" fill-opacity="0.5"/>
<path d="M282.4 580C285.4 570.7 279 574.8 284 564C289 553.2 287.5 558.6 297.5 547.5C307.5 536.4 303.9 540.9 314 530.7C324.1 520.5 317.5 526.6 327.7 517C337.9 507.4 335.5 511 344.5 502C353.5 493 348.4 499.5 354.6 490C360.8 480.5 356.3 482.9 363 473.6C369.7 464.3 365.3 468.7 374.8 462C384.3 455.3 377.1 457.5 391.5 453.5C405.9 449.5 402.5 448.7 418 450C433.5 451.3 427.2 450.8 438 457.5C448.8 464.2 442.2 465 450.5 470C458.8 475 452.2 474.2 463 472.5C473.8 470.8 469.7 467.8 483 465C496.3 462.2 492.2 460.7 503 464C513.8 467.3 511.3 466.3 515.5 475C519.7 483.7 519.7 480 515.5 490C511.3 500 512.2 495.8 503 505C493.8 514.2 496.3 510 488 517.5C479.7 525 484.7 520 478 527.5C471.3 535 475.7 529.2 468 540C460.3 550.8 464.3 545 455 560C445.7 575 451.7 570 440 585C428.3 600 435 594 420 605C405 616 413.3 612.3 395 618C376.7 623.7 383 621.7 365 622C347 622.3 353.4 617.3 341 619C328.6 620.7 338.8 623.2 327.7 627C316.6 630.8 321 632.2 307.6 630.5C294.2 628.8 298.7 629.5 287.5 622C276.3 614.5 278.2 618 274 608C269.8 598 272.2 601.3 275 592C277.8 582.7 279.4 589.3 282.4 580Z" fill="none" stroke="#d6a8b0" stroke-width="2" stroke-dasharray="13 3.5" stroke-opacity="0.85"/>
<path d="M269 580C270 573.7 265.8 576.3 272 561C278.2 545.7 273.5 550.8 287.5 534C301.5 517.2 302.5 521.3 314 510.6C325.5 499.9 319.3 504.9 322 502" fill="none" stroke="#b8431e" stroke-width="2.1" stroke-dasharray="12 8.5" stroke-dashoffset="0" stroke-linecap="butt"/>
<path d="M354.6 463.6C359.1 458 356.9 456.3 368 446.8C379.1 437.3 374 440.3 388 435C402 429.7 395.3 431.7 410 431C424.7 430.3 418.7 429.7 432 433C445.3 436.3 439 434.7 450 441C461 447.3 456.3 446.7 465 452C473.7 457.3 472.3 455.3 476 457" fill="none" stroke="#b8431e" stroke-width="2.1" stroke-dasharray="12 8.5" stroke-dashoffset="0" stroke-linecap="butt"/>
<path d="M505 455C510 457.3 512.7 454.3 520 462C527.3 469.7 526.3 467 527 478C527.7 489 528.3 483.7 522 495C515.7 506.3 518 501 508 512C498 523 497.3 522.7 492 528" fill="none" stroke="#b8431e" stroke-width="2.1" stroke-dasharray="12 8.5" stroke-dashoffset="0" stroke-linecap="butt"/>
<path d="M280 600C284 606 282.7 608.7 292 618C301.3 627.3 296 623.3 308 628C320 632.7 315.7 632 328 632C340.3 632 339.3 629.3 345 628" fill="none" stroke="#b8431e" stroke-width="2.1" stroke-dasharray="12 8.5" stroke-dashoffset="0" stroke-linecap="butt"/>
<path d="M300 610C299.3 601.7 295.3 601.7 298 585C300.7 568.3 299 575 308 560C317 545 312.7 552.7 325 540C337.3 527.3 332.7 533.7 345 522C357.3 510.3 350.3 516.3 362 505C373.7 493.7 367.3 497.7 380 488C392.7 478.3 386.7 480.7 400 476C413.3 471.3 408 472 420 474C432 476 430.7 479.3 436 482" fill="none" stroke="#b8431e" stroke-width="2.1" stroke-dasharray="12 8.5" stroke-dashoffset="0" stroke-linecap="butt"/>
<path d="M450 492C456.7 490 456 490.7 470 486C484 481.3 480.3 478.7 492 478C503.7 477.3 502.3 476.7 505 484C507.7 491.3 506.7 489.7 500 500C493.3 510.3 495 505 485 515C475 525 475 525 470 530" fill="none" stroke="#b8431e" stroke-width="2.1" stroke-dasharray="12 8.5" stroke-dashoffset="0" stroke-linecap="butt"/>
<path d="M325 600C326.7 591.7 323.3 590 330 575C336.7 560 333.3 566.7 345 555C356.7 543.3 351.7 549 365 540C378.3 531 371.7 536.3 385 528C398.3 519.7 391.7 521.7 405 515C418.3 508.3 418.3 510.3 425 508" fill="none" stroke="#b8431e" stroke-width="2.1" stroke-dasharray="12 8.5" stroke-dashoffset="0" stroke-linecap="butt"/>
<path d="M210 637C216 623.7 215.3 630.3 230 617C244.7 603.7 238.3 608.7 254 597C269.7 585.3 265 586.3 277 582C289 577.7 277.7 580 290 584C302.3 588 301.7 590 314 594C326.3 598 319 598.3 327 596C335 593.7 329.7 589 338 587C346.3 585 340.7 584 352 590C363.3 596 360 593.3 372 605C384 616.7 380.3 611.7 388 625C395.7 638.3 392.7 633.3 395 645C397.3 656.7 396.7 650.5 395 660C393.3 669.5 394.5 664.6 390 673.6C385.5 682.6 387.7 676.9 381.5 687C375.3 697.1 377.6 692.6 371.4 703.8C365.2 715 368.6 708.3 363 720.6C357.4 732.9 361.9 728.4 354.6 740.7C347.3 753 352.2 748.5 341 757.5C329.8 766.5 337.7 762.1 321 767.6C304.3 773.1 310 771.2 291 774C272 776.8 282 776 264 776C246 776 251 776.3 237 774C223 771.7 228.7 776.7 222 769C215.3 761.3 218.7 765 217 751C215.3 737 216 741.7 217 727C218 712.3 217.3 719.3 220 707C222.7 694.7 223.8 701.1 225 690C226.2 678.9 228 684.6 223.7 673.6C219.4 662.6 216.6 669.2 212 657C207.4 644.8 204 650.3 210 637Z" fill="#5ea945" fill-opacity="0.5"/>
<path d="M210 637C216 623.7 215.3 630.3 230 617C244.7 603.7 238.3 608.7 254 597C269.7 585.3 265 586.3 277 582C289 577.7 277.7 580 290 584C302.3 588 301.7 590 314 594C326.3 598 319 598.3 327 596C335 593.7 329.7 589 338 587C346.3 585 340.7 584 352 590C363.3 596 360 593.3 372 605C384 616.7 380.3 611.7 388 625C395.7 638.3 392.7 633.3 395 645C397.3 656.7 396.7 650.5 395 660C393.3 669.5 394.5 664.6 390 673.6C385.5 682.6 387.7 676.9 381.5 687C375.3 697.1 377.6 692.6 371.4 703.8C365.2 715 368.6 708.3 363 720.6C357.4 732.9 361.9 728.4 354.6 740.7C347.3 753 352.2 748.5 341 757.5C329.8 766.5 337.7 762.1 321 767.6C304.3 773.1 310 771.2 291 774C272 776.8 282 776 264 776C246 776 251 776.3 237 774C223 771.7 228.7 776.7 222 769C215.3 761.3 218.7 765 217 751C215.3 737 216 741.7 217 727C218 712.3 217.3 719.3 220 707C222.7 694.7 223.8 701.1 225 690C226.2 678.9 228 684.6 223.7 673.6C219.4 662.6 216.6 669.2 212 657C207.4 644.8 204 650.3 210 637Z" fill="none" stroke="#b9c4b4" stroke-width="2" stroke-dasharray="13 3.5" stroke-opacity="0.85"/>
<path d="M395 683.6C391.6 689.1 391 688.9 384.8 700C378.6 711.1 382 704.7 376.4 717C370.8 729.3 374.1 724 368 737C361.9 750 367 745.3 358 756C349 766.7 353.3 761.8 341 769C328.7 776.2 335.5 772.6 321 777.7C306.5 782.8 314.3 781.1 297.5 784.4C280.7 787.7 287.5 787.2 270.7 787.7C253.9 788.2 261.6 788.9 247 786C232.4 783.1 238.1 785.1 227 779C215.9 772.9 219.8 778.1 213.6 767.6C207.4 757.1 210.7 761 208.5 747.5C206.3 734 208.8 738.8 207 727C205.2 715.2 204.3 717 203 712" fill="none" stroke="#4a7a32" stroke-width="2.1" stroke-dasharray="12 8.5" stroke-dashoffset="0" stroke-linecap="butt"/>
<path d="M195 660C195 653.3 193.3 652.7 195 640C196.7 627.3 200.3 633 200 622C199.7 611 198.5 617.7 194 607C189.5 596.3 185.2 599.7 186.5 590C187.8 580.3 188.5 580.5 198 578C207.5 575.5 204.3 576.2 215 582.5C225.7 588.8 218.3 594.2 230 597C241.7 599.8 240.7 597.7 250 591C259.3 584.3 258.3 586 258 577C257.7 568 251 571.7 249 564C247 556.3 246 561.2 252 554C258 546.8 255.2 546.8 267 542.5C278.8 538.2 278.5 538.8 287.5 541C296.5 543.2 287.3 543.5 294 549C300.7 554.5 296.4 554.3 307.6 557.6C318.8 560.9 316.6 559 327.7 559C338.8 559 336.6 558.1 341 557.6" fill="none" stroke="#4a7a32" stroke-width="2.1" stroke-dasharray="12 8.5" stroke-dashoffset="0" stroke-linecap="butt"/>
<path d="M190 600C195 601.7 195 602.5 205 605C215 607.5 215 606.7 220 607.5" fill="none" stroke="#4a7a32" stroke-width="2.1" stroke-dasharray="12 8.5" stroke-dashoffset="0" stroke-linecap="butt"/>
<path d="M230 632C229 638.2 223 636.7 227 650.7C231 664.7 238.7 658.6 242 674C245.3 689.4 241 681.5 237 697C233 712.5 232.3 704.9 230 720.6C227.7 736.3 227.1 729.5 230 744C232.9 758.5 227.5 755 238.8 764C250.1 773 246.6 769.3 264 771C281.4 772.7 274.3 771.8 291 769C307.7 766.2 300.7 768.6 314 762.6C327.3 756.6 322 760.5 331 751C340 741.5 334.8 745.3 341 734C347.2 722.7 343.9 727.1 349.6 717C355.3 706.9 351.9 712.8 358 703.8C364.1 694.8 361.3 700.1 368 690C374.7 679.9 374 685.3 378 673.6C382 661.9 382.7 666.2 380 655C377.3 643.8 373.3 645 370 640" fill="none" stroke="#4a7a32" stroke-width="2.1" stroke-dasharray="12 8.5" stroke-dashoffset="0" stroke-linecap="butt"/>
<path d="M280.7 670C276.1 674.5 274.2 672.3 267 683.6C259.8 694.9 262.3 690.3 259 703.8C255.7 717.3 256.5 710.6 257 724C257.5 737.4 254.9 732.8 260.6 744C266.3 755.2 262.9 752.5 274 757.5C285.1 762.5 280.7 761.2 294 759C307.3 756.8 303.9 759.3 314 751C324.1 742.7 319.3 745.3 324.4 734C329.5 722.7 323.9 727.1 329.4 717C334.9 706.9 332.6 712.8 341 703.8C349.4 694.8 347.3 698.9 354.6 690C361.9 681.1 360.9 685.3 363 677C365.1 668.7 368.3 671.7 361 665C353.7 658.3 352.1 659 341 656.8C329.9 654.6 338.8 656.8 327.7 658.5C316.6 660.2 314.3 660.8 307.6 662" fill="none" stroke="#4a7a32" stroke-width="2.1" stroke-dasharray="12 8.5" stroke-dashoffset="0" stroke-linecap="butt"/>
<g stroke="#3a3a3a" stroke-width="1.1" fill="none">
<path d="M80.5 432.5V777.5H660.5"/>
<path d="M124.1 777.5v-5.8M149.7 777.5v-5.8M167.8 777.5v-5.8M181.9 777.5v-5.8M193.3 777.5v-5.8M203 777.5v-5.8M211.4 777.5v-5.8M218.9 777.5v-5.8M225.5 777.5v-9.5M269.1 777.5v-5.8M294.7 777.5v-5.8M312.8 777.5v-5.8M326.9 777.5v-5.8M338.3 777.5v-5.8M348 777.5v-5.8M356.4 777.5v-5.8M363.9 777.5v-5.8M370.5 777.5v-9.5M414.1 777.5v-5.8M439.7 777.5v-5.8M457.8 777.5v-5.8M471.9 777.5v-5.8M483.3 777.5v-5.8M493 777.5v-5.8M501.4 777.5v-5.8M508.9 777.5v-5.8M515.5 777.5v-9.5M559.1 777.5v-5.8M584.7 777.5v-5.8M602.8 777.5v-5.8M616.9 777.5v-5.8M628.3 777.5v-5.8M638 777.5v-5.8M646.4 777.5v-5.8M653.9 777.5v-5.8M80.5 742.9h5.8M80.5 722.6h5.8M80.5 708.3h5.8M80.5 697.1h5.8M80.5 688h5.8M80.5 680.3h5.8M80.5 673.6h5.8M80.5 667.8h5.8M80.5 662.5h10M80.5 627.9h5.8M80.5 607.6h5.8M80.5 593.3h5.8M80.5 582.1h5.8M80.5 573h5.8M80.5 565.3h5.8M80.5 558.6h5.8M80.5 552.8h5.8M80.5 547.5h10M80.5 512.9h5.8M80.5 492.6h5.8M80.5 478.3h5.8M80.5 467.1h5.8M80.5 458h5.8M80.5 450.3h5.8M80.5 443.6h5.8M80.5 437.8h5.8M80.5 432.5h10"/>
</g>
<text x="80.5" y="801.5" font-size="16" text-anchor="middle">0.0001</text>
<text x="225.5" y="801.5" font-size="16" text-anchor="middle">0.0010</text>
<text x="370.5" y="801.5" font-size="16" text-anchor="middle">0.0100</text>
<text x="515.5" y="801.5" font-size="16" text-anchor="middle">0.1000</text>
<text x="660.5" y="801.5" font-size="16" text-anchor="middle">1.0000</text>
<text x="74.5" y="782.5" font-size="16" text-anchor="end">0.01</text>
<text x="74.5" y="667.5" font-size="16" text-anchor="end">0.10</text>
<text x="74.5" y="552.5" font-size="16" text-anchor="end">1.00</text>
<text x="74.5" y="437.5" font-size="16" text-anchor="end">10.00</text>
<text x="370.5" y="824" font-size="16.4" text-anchor="middle">Nb/Yb</text>
<text x="24" y="605" font-size="16.4" text-anchor="middle" transform="rotate(-90 24 605)">U/Yb</text>
<g fill="#30276f"><circle cx="397.6" cy="483" r="4.2"/><circle cx="381.5" cy="507" r="4.2"/><circle cx="361" cy="515.6" r="4.2"/><circle cx="349.6" cy="526.7" r="4.2"/><circle cx="366.4" cy="529" r="4.2"/><circle cx="374.8" cy="527.4" r="4.2"/><circle cx="383" cy="525.7" r="4.2"/><circle cx="390" cy="527.4" r="4.2"/><circle cx="358" cy="537.5" r="4.2"/><circle cx="354.6" cy="545.9" r="4.2"/><circle cx="363" cy="544" r="4.2"/><circle cx="324.4" cy="554" r="4.2"/><circle cx="331" cy="552.6" r="4.2"/><circle cx="322.7" cy="566" r="4.2"/><circle cx="363" cy="566" r="4.2"/><circle cx="279.5" cy="580" r="4.2"/><circle cx="301" cy="577.5" r="4.2"/><circle cx="327.7" cy="579" r="4.2"/><circle cx="301.6" cy="621.5" r="4.2"/><circle cx="317" cy="616.4" r="4.2"/><circle cx="329.4" cy="613.7" r="4.2"/><circle cx="331" cy="605" r="4.2"/><circle cx="309.3" cy="649" r="4.2"/><circle cx="337" cy="654" r="4.2"/><circle cx="347" cy="677.5" r="4.2"/><circle cx="404.3" cy="683" r="4.2"/><circle cx="495.8" cy="565" r="4.2"/><circle cx="544.5" cy="569.4" r="4.2"/><circle cx="525" cy="574.5" r="4.2"/><circle cx="489.8" cy="587" r="4.2"/><circle cx="510.5" cy="587" r="4.2"/><circle cx="497" cy="606" r="4.2"/><circle cx="559.3" cy="613" r="4.2"/><circle cx="428" cy="657.4" r="4.2"/><circle cx="507" cy="462.5" r="4.2"/><circle cx="535.5" cy="488.5" r="4.2"/><circle cx="474" cy="485" r="4.2"/><circle cx="477" cy="496" r="4.2"/><circle cx="499" cy="515" r="4.2"/><circle cx="508" cy="523.5" r="4.2"/><circle cx="479" cy="533.5" r="4.2"/><circle cx="522" cy="541" r="4.2"/><circle cx="477" cy="569" r="4.2"/><circle cx="418" cy="499" r="4.2"/><circle cx="407" cy="507.5" r="4.2"/><circle cx="403" cy="512.5" r="4.2"/><circle cx="428" cy="504" r="4.2"/><circle cx="435.5" cy="505" r="4.2"/><circle cx="453" cy="510" r="4.2"/><circle cx="430.5" cy="517.5" r="4.2"/><circle cx="438" cy="517.5" r="4.2"/><circle cx="459" cy="527.5" r="4.2"/><circle cx="463" cy="535" r="4.2"/><circle cx="350.5" cy="526.5" r="4.2"/><circle cx="348" cy="537.5" r="4.2"/><circle cx="393" cy="535" r="4.2"/><circle cx="430.5" cy="532.5" r="4.2"/><circle cx="443" cy="537.5" r="4.2"/><circle cx="434.1" cy="565.1" r="4.2"/><circle cx="422.3" cy="585.8" r="4.2"/><circle cx="395.8" cy="544.5" r="4.2"/><circle cx="435.1" cy="554.2" r="4.2"/><circle cx="445.6" cy="562.5" r="4.2"/><circle cx="412" cy="559.7" r="4.2"/><circle cx="450.3" cy="539.2" r="4.2"/><circle cx="406.3" cy="590.5" r="4.2"/><circle cx="472.4" cy="547.7" r="4.2"/><circle cx="460.2" cy="559.4" r="4.2"/><circle cx="399.2" cy="525.6" r="4.2"/><circle cx="391" cy="624.8" r="4.2"/><circle cx="457.1" cy="619.5" r="4.2"/><circle cx="403.6" cy="551.1" r="4.2"/><circle cx="457.3" cy="582.7" r="4.2"/><circle cx="371.6" cy="568.4" r="4.2"/><circle cx="370.4" cy="596.9" r="4.2"/><circle cx="381.6" cy="602" r="4.2"/><circle cx="400.8" cy="613.7" r="4.2"/><circle cx="378" cy="560.3" r="4.2"/><circle cx="391.4" cy="598.5" r="4.2"/><circle cx="401.8" cy="579" r="4.2"/><circle cx="399" cy="598.2" r="4.2"/><circle cx="418.6" cy="578.7" r="4.2"/><circle cx="352.4" cy="556.6" r="4.2"/><circle cx="357.8" cy="603.9" r="4.2"/><circle cx="450.2" cy="552" r="4.2"/><circle cx="357.8" cy="579.2" r="4.2"/><circle cx="457.1" cy="574.6" r="4.2"/><circle cx="441.2" cy="615.9" r="4.2"/><circle cx="388.9" cy="580.8" r="4.2"/><circle cx="420.8" cy="595.5" r="4.2"/><circle cx="412.3" cy="585.2" r="4.2"/><circle cx="382.3" cy="616" r="4.2"/><circle cx="449.1" cy="577.9" r="4.2"/><circle cx="420.4" cy="562.8" r="4.2"/><circle cx="427.1" cy="607.8" r="4.2"/><circle cx="370.7" cy="608.1" r="4.2"/><circle cx="407" cy="532.8" r="4.2"/><circle cx="406.6" cy="563.9" r="4.2"/><circle cx="406.2" cy="570.7" r="4.2"/><circle cx="429.9" cy="549.6" r="4.2"/><circle cx="395.7" cy="566" r="4.2"/><circle cx="375.6" cy="626.8" r="4.2"/><circle cx="444.3" cy="624.7" r="4.2"/><circle cx="369.7" cy="620.3" r="4.2"/><circle cx="393.2" cy="510.8" r="4.2"/><circle cx="417.6" cy="536.5" r="4.2"/><circle cx="395.8" cy="587.1" r="4.2"/><circle cx="441.4" cy="605.6" r="4.2"/><circle cx="422.5" cy="556.2" r="4.2"/><circle cx="435.6" cy="578.7" r="4.2"/><circle cx="433.5" cy="604.5" r="4.2"/><circle cx="426.9" cy="543.2" r="4.2"/><circle cx="433.4" cy="588.1" r="4.2"/><circle cx="350.7" cy="577.4" r="4.2"/><circle cx="455.9" cy="547" r="4.2"/><circle cx="365.9" cy="582.2" r="4.2"/><circle cx="467.3" cy="585.6" r="4.2"/><circle cx="429.9" cy="570.9" r="4.2"/><circle cx="419.5" cy="546.6" r="4.2"/><circle cx="371.2" cy="549.6" r="4.2"/><circle cx="417.9" cy="613.1" r="4.2"/><circle cx="392.4" cy="558.2" r="4.2"/><circle cx="353.9" cy="592.2" r="4.2"/><circle cx="443" cy="589.2" r="4.2"/><circle cx="392.9" cy="573.1" r="4.2"/><circle cx="451.7" cy="590.2" r="4.2"/><circle cx="414" cy="606.8" r="4.2"/><circle cx="476" cy="597" r="4.2"/><circle cx="440.5" cy="623.6" r="4.2"/><circle cx="402.1" cy="571.4" r="4.2"/><circle cx="430.4" cy="633.6" r="4.2"/><circle cx="431.7" cy="565.1" r="4.2"/><circle cx="402.7" cy="591.4" r="4.2"/><circle cx="445.1" cy="592.5" r="4.2"/><circle cx="412.9" cy="587.4" r="4.2"/><circle cx="425.9" cy="575.2" r="4.2"/><circle cx="421.8" cy="599" r="4.2"/><circle cx="462" cy="591.4" r="4.2"/><circle cx="445.5" cy="568.5" r="4.2"/><circle cx="442.8" cy="596.6" r="4.2"/><circle cx="408.6" cy="592.2" r="4.2"/><circle cx="443.9" cy="585.2" r="4.2"/><circle cx="447" cy="628.6" r="4.2"/><circle cx="390.7" cy="600.8" r="4.2"/><circle cx="405.1" cy="615.1" r="4.2"/><circle cx="433.2" cy="578.9" r="4.2"/><circle cx="422.3" cy="551.3" r="4.2"/><circle cx="385.7" cy="573.1" r="4.2"/><circle cx="441.4" cy="611" r="4.2"/><circle cx="428.8" cy="577.8" r="4.2"/><circle cx="400.9" cy="604.3" r="4.2"/><circle cx="397.5" cy="599.1" r="4.2"/><circle cx="431.9" cy="593.8" r="4.2"/><circle cx="391.9" cy="592.7" r="4.2"/><circle cx="381.5" cy="579.6" r="4.2"/><circle cx="427" cy="624.4" r="4.2"/><circle cx="388.3" cy="580.4" r="4.2"/><circle cx="427.4" cy="605.3" r="4.2"/><circle cx="401.8" cy="618.6" r="4.2"/><circle cx="416.9" cy="602.5" r="4.2"/><circle cx="463" cy="609.6" r="4.2"/><circle cx="425.1" cy="569.1" r="4.2"/><circle cx="405.7" cy="559.1" r="4.2"/><circle cx="453.4" cy="584.3" r="4.2"/><circle cx="442.6" cy="573.3" r="4.2"/><circle cx="407.6" cy="604.7" r="4.2"/><circle cx="425.3" cy="564.7" r="4.2"/><circle cx="425.3" cy="585.3" r="4.2"/><circle cx="420" cy="611.8" r="4.2"/><circle cx="407.6" cy="599.1" r="4.2"/><circle cx="441.6" cy="601.2" r="4.2"/><circle cx="420.3" cy="564.6" r="4.2"/><circle cx="381.1" cy="585.8" r="4.2"/><circle cx="438" cy="594.9" r="4.2"/><circle cx="444.4" cy="555.7" r="4.2"/><circle cx="391.5" cy="606.2" r="4.2"/><circle cx="421.4" cy="588.6" r="4.2"/><circle cx="454.2" cy="596.7" r="4.2"/><circle cx="390.8" cy="555.2" r="4.2"/><circle cx="404.4" cy="582.6" r="4.2"/><circle cx="432.1" cy="584.8" r="4.2"/><circle cx="430.2" cy="598" r="4.2"/><circle cx="447.9" cy="596.1" r="4.2"/><circle cx="413.7" cy="581.7" r="4.2"/><circle cx="399.5" cy="586.9" r="4.2"/><circle cx="392.7" cy="618.2" r="4.2"/><circle cx="427.7" cy="550" r="4.2"/><circle cx="420.3" cy="629.1" r="4.2"/><circle cx="438" cy="580.3" r="4.2"/><circle cx="397" cy="575" r="4.2"/><circle cx="406.7" cy="626.6" r="4.2"/><circle cx="389.4" cy="587" r="4.2"/><circle cx="417.4" cy="588.7" r="4.2"/><circle cx="396.3" cy="589.4" r="4.2"/><circle cx="446.4" cy="599.7" r="4.2"/><circle cx="437.5" cy="556.9" r="4.2"/><circle cx="403.3" cy="596.8" r="4.2"/><circle cx="399.3" cy="610.3" r="4.2"/><circle cx="445.6" cy="606" r="4.2"/><circle cx="381.3" cy="593.9" r="4.2"/><circle cx="454.6" cy="565.5" r="4.2"/><circle cx="391.5" cy="563.1" r="4.2"/><circle cx="396.6" cy="550.7" r="4.2"/><circle cx="395" cy="613.8" r="4.2"/><circle cx="423.8" cy="591.8" r="4.2"/><circle cx="412.7" cy="611.2" r="4.2"/><circle cx="416.2" cy="576.4" r="4.2"/></g>
<g fill="#e1262d"><circle cx="260.6" cy="556" r="3.0"/><circle cx="384.8" cy="539" r="3.0"/><circle cx="366.4" cy="545.9" r="3.0"/><circle cx="344.5" cy="564.3" r="3.0"/><circle cx="334.5" cy="598.6" r="3.0"/><circle cx="337.8" cy="607" r="3.0"/><circle cx="517" cy="571.8" r="3.0"/><circle cx="517.7" cy="581" r="3.0"/><circle cx="474" cy="603" r="3.0"/><circle cx="480" cy="604.3" r="3.0"/><circle cx="494" cy="570" r="3.0"/><circle cx="477.4" cy="566" r="3.0"/><circle cx="478" cy="497" r="3.0"/><circle cx="510.5" cy="516" r="3.0"/><circle cx="493" cy="544" r="3.0"/><circle cx="505.5" cy="550" r="3.0"/><circle cx="436.5" cy="517.5" r="3.0"/><circle cx="406.5" cy="528.5" r="3.0"/><circle cx="385.5" cy="541" r="3.0"/><circle cx="448" cy="541" r="3.0"/><circle cx="356.4" cy="597.9" r="3.0"/><circle cx="372.9" cy="601.4" r="3.0"/><circle cx="409.4" cy="613.4" r="3.0"/><circle cx="399.9" cy="587.7" r="3.0"/><circle cx="343.5" cy="621" r="3.0"/><circle cx="386.3" cy="603.7" r="3.0"/><circle cx="350.6" cy="583.1" r="3.0"/><circle cx="409.9" cy="573.2" r="3.0"/><circle cx="343.8" cy="604.6" r="3.0"/><circle cx="350.7" cy="628.3" r="3.0"/><circle cx="409.9" cy="603.9" r="3.0"/><circle cx="385.9" cy="576.3" r="3.0"/><circle cx="411.3" cy="583.8" r="3.0"/><circle cx="332.2" cy="607.1" r="3.0"/><circle cx="395" cy="615.4" r="3.0"/><circle cx="394.4" cy="604.6" r="3.0"/><circle cx="418.9" cy="583.7" r="3.0"/><circle cx="439.2" cy="566.6" r="3.0"/><circle cx="373.1" cy="608.9" r="3.0"/><circle cx="334.4" cy="615.8" r="3.0"/><circle cx="401.7" cy="564.4" r="3.0"/><circle cx="430" cy="592.8" r="3.0"/><circle cx="350.6" cy="605.1" r="3.0"/><circle cx="410.2" cy="619" r="3.0"/><circle cx="386.2" cy="592.5" r="3.0"/><circle cx="373.3" cy="643.2" r="3.0"/><circle cx="381.3" cy="604.8" r="3.0"/><circle cx="358.6" cy="578" r="3.0"/><circle cx="363.2" cy="595.2" r="3.0"/><circle cx="359.1" cy="642.6" r="3.0"/><circle cx="399.3" cy="611.7" r="3.0"/><circle cx="409.1" cy="591" r="3.0"/><circle cx="355.6" cy="602.9" r="3.0"/><circle cx="391.8" cy="572.2" r="3.0"/><circle cx="441" cy="572.1" r="3.0"/><circle cx="440.9" cy="605.2" r="3.0"/><circle cx="370.4" cy="635.5" r="3.0"/><circle cx="409.9" cy="555.2" r="3.0"/><circle cx="426.2" cy="572.5" r="3.0"/><circle cx="433.8" cy="601.4" r="3.0"/><circle cx="373.3" cy="616.6" r="3.0"/><circle cx="351.8" cy="592.6" r="3.0"/><circle cx="416.2" cy="596.8" r="3.0"/><circle cx="356.1" cy="563.6" r="3.0"/><circle cx="392.8" cy="634" r="3.0"/><circle cx="416.1" cy="566.4" r="3.0"/><circle cx="389.5" cy="566.3" r="3.0"/><circle cx="426.6" cy="558.7" r="3.0"/><circle cx="377.2" cy="594.7" r="3.0"/><circle cx="427.8" cy="602.1" r="3.0"/><circle cx="381.5" cy="572.9" r="3.0"/><circle cx="392.7" cy="589.2" r="3.0"/><circle cx="443.6" cy="593.2" r="3.0"/><circle cx="418.1" cy="561" r="3.0"/><circle cx="380.7" cy="549.2" r="3.0"/><circle cx="414.8" cy="589.1" r="3.0"/><circle cx="353.2" cy="612.9" r="3.0"/><circle cx="376.5" cy="544.4" r="3.0"/><circle cx="422.5" cy="597" r="3.0"/><circle cx="384.7" cy="613" r="3.0"/><circle cx="340.1" cy="587" r="3.0"/><circle cx="401.4" cy="573.7" r="3.0"/><circle cx="419.8" cy="590.1" r="3.0"/><circle cx="426.5" cy="514.2" r="3.0"/><circle cx="482.3" cy="597.5" r="3.0"/><circle cx="467.3" cy="608.2" r="3.0"/><circle cx="437.8" cy="537.6" r="3.0"/><circle cx="449.7" cy="555.4" r="3.0"/><circle cx="412.7" cy="523.7" r="3.0"/><circle cx="469.2" cy="589.4" r="3.0"/><circle cx="443.5" cy="533.2" r="3.0"/><circle cx="442" cy="612.3" r="3.0"/><circle cx="432.9" cy="577.5" r="3.0"/><circle cx="484.8" cy="540.4" r="3.0"/><circle cx="473.2" cy="574.1" r="3.0"/></g>
<g fill="#30276f"><circle cx="419.7" cy="638.4" r="4.2"/><circle cx="431.5" cy="622.8" r="4.2"/><circle cx="416.8" cy="615.1" r="4.2"/><circle cx="447.1" cy="582.2" r="4.2"/><circle cx="418" cy="606.6" r="4.2"/><circle cx="465.5" cy="601.4" r="4.2"/><circle cx="456.8" cy="577.1" r="4.2"/><circle cx="411.8" cy="601.4" r="4.2"/><circle cx="433" cy="548.9" r="4.2"/><circle cx="430.7" cy="614.5" r="4.2"/><circle cx="404.1" cy="586.5" r="4.2"/><circle cx="434.6" cy="561.9" r="4.2"/><circle cx="410.6" cy="624.2" r="4.2"/><circle cx="427.4" cy="601.4" r="4.2"/><circle cx="388.9" cy="612" r="4.2"/><circle cx="416.8" cy="563" r="4.2"/><circle cx="388.2" cy="566.9" r="4.2"/><circle cx="452.8" cy="591.6" r="4.2"/><circle cx="434.6" cy="618.9" r="4.2"/><circle cx="430.4" cy="571.1" r="4.2"/><circle cx="425" cy="596.1" r="4.2"/><circle cx="423.9" cy="603.1" r="4.2"/><circle cx="434.3" cy="604.4" r="4.2"/><circle cx="409.9" cy="577.1" r="4.2"/><circle cx="394.1" cy="585.7" r="4.2"/><circle cx="382.4" cy="569.7" r="4.2"/><circle cx="417.6" cy="553.3" r="4.2"/><circle cx="419.3" cy="593.3" r="4.2"/><circle cx="404.1" cy="564.8" r="4.2"/><circle cx="416.5" cy="548.3" r="4.2"/><circle cx="412.6" cy="592.9" r="4.2"/><circle cx="388.9" cy="624.7" r="4.2"/><circle cx="389.7" cy="570.6" r="4.2"/><circle cx="448.6" cy="562" r="4.2"/><circle cx="436" cy="585" r="4.2"/><circle cx="412.4" cy="573.7" r="4.2"/><circle cx="424.4" cy="608" r="4.2"/><circle cx="412.5" cy="568.6" r="4.2"/><circle cx="397.7" cy="566.2" r="4.2"/><circle cx="405.7" cy="608.5" r="4.2"/><circle cx="422.1" cy="557.9" r="4.2"/><circle cx="392.7" cy="575.5" r="4.2"/><circle cx="386.5" cy="559.3" r="4.2"/><circle cx="386" cy="614.8" r="4.2"/><circle cx="432.2" cy="627.6" r="4.2"/><circle cx="422.6" cy="624.4" r="4.2"/><circle cx="393.6" cy="624.8" r="4.2"/><circle cx="463.2" cy="582.9" r="4.2"/><circle cx="432.7" cy="610.8" r="4.2"/><circle cx="386.5" cy="619.6" r="4.2"/><circle cx="432.1" cy="553.3" r="4.2"/><circle cx="449.1" cy="614.9" r="4.2"/><circle cx="386.9" cy="608.7" r="4.2"/><circle cx="430.3" cy="618.6" r="4.2"/><circle cx="436.4" cy="576" r="4.2"/><circle cx="402.5" cy="554.7" r="4.2"/><circle cx="416.3" cy="634.4" r="4.2"/><circle cx="450.1" cy="588.2" r="4.2"/><circle cx="412" cy="564.5" r="4.2"/><circle cx="380.3" cy="603.5" r="4.2"/><circle cx="454.9" cy="602.3" r="4.2"/><circle cx="413.3" cy="617" r="4.2"/><circle cx="438.3" cy="606.8" r="4.2"/><circle cx="406.9" cy="548.5" r="4.2"/><circle cx="440.1" cy="589.6" r="4.2"/><circle cx="405.7" cy="577.3" r="4.2"/><circle cx="449.3" cy="554.3" r="4.2"/><circle cx="421.8" cy="581.2" r="4.2"/><circle cx="383.7" cy="601" r="4.2"/><circle cx="455.1" cy="611.3" r="4.2"/><circle cx="453.8" cy="621.8" r="4.2"/><circle cx="399.8" cy="581.8" r="4.2"/><circle cx="401.2" cy="577" r="4.2"/><circle cx="409.7" cy="608.7" r="4.2"/><circle cx="440" cy="561.9" r="4.2"/><circle cx="378.7" cy="598.9" r="4.2"/><circle cx="423.2" cy="617.4" r="4.2"/><circle cx="453" cy="577.9" r="4.2"/><circle cx="439.1" cy="570.2" r="4.2"/><circle cx="398.4" cy="628.9" r="4.2"/><circle cx="414.3" cy="556.7" r="4.2"/><circle cx="417.4" cy="567.9" r="4.2"/><circle cx="421.8" cy="572.4" r="4.2"/><circle cx="437.9" cy="602.3" r="4.2"/><circle cx="441.1" cy="615.2" r="4.2"/><circle cx="448.5" cy="609.5" r="4.2"/><circle cx="396.5" cy="594.2" r="4.2"/><circle cx="384.9" cy="596.9" r="4.2"/><circle cx="408.6" cy="583.6" r="4.2"/><circle cx="377.3" cy="585.9" r="4.2"/><circle cx="406" cy="552.7" r="4.2"/><circle cx="466.7" cy="575.2" r="4.2"/><circle cx="440.7" cy="634.6" r="4.2"/><circle cx="408.2" cy="568.7" r="4.2"/><circle cx="439.8" cy="584.4" r="4.2"/><circle cx="375.5" cy="596.3" r="4.2"/><circle cx="426.3" cy="544.7" r="4.2"/><circle cx="379.4" cy="572.8" r="4.2"/><circle cx="430.8" cy="560.9" r="4.2"/><circle cx="452.1" cy="606.4" r="4.2"/><circle cx="446.4" cy="619.2" r="4.2"/><circle cx="430.3" cy="546.2" r="4.2"/><circle cx="433.9" cy="600.5" r="4.2"/><circle cx="462.8" cy="617.5" r="4.2"/><circle cx="396.3" cy="555.2" r="4.2"/><circle cx="398.7" cy="616.3" r="4.2"/><circle cx="415.7" cy="621.9" r="4.2"/><circle cx="385.7" cy="583.5" r="4.2"/><circle cx="452.4" cy="561.7" r="4.2"/><circle cx="458.5" cy="617.4" r="4.2"/><circle cx="458.8" cy="566.9" r="4.2"/><circle cx="367.5" cy="627.4" r="4.2"/><circle cx="349.1" cy="623" r="4.2"/><circle cx="385.3" cy="631.3" r="4.2"/><circle cx="372.6" cy="601.9" r="4.2"/><circle cx="356.6" cy="627.7" r="4.2"/><circle cx="363.2" cy="605.8" r="4.2"/><circle cx="353.6" cy="602.7" r="4.2"/><circle cx="371.5" cy="621.9" r="4.2"/><circle cx="362.1" cy="613.7" r="4.2"/><circle cx="377.5" cy="614.8" r="4.2"/><circle cx="349.6" cy="611.4" r="4.2"/><circle cx="367" cy="617.5" r="4.2"/><circle cx="343.4" cy="630" r="4.2"/><circle cx="378.4" cy="632.3" r="4.2"/><circle cx="355" cy="616.6" r="4.2"/><circle cx="360.7" cy="594.2" r="4.2"/><circle cx="337.9" cy="600.5" r="4.2"/><circle cx="363.1" cy="585" r="4.2"/><circle cx="360.9" cy="643.6" r="4.2"/><circle cx="369.6" cy="582.1" r="4.2"/><circle cx="382.7" cy="624.4" r="4.2"/><circle cx="353.8" cy="592.4" r="4.2"/><circle cx="368.9" cy="591.7" r="4.2"/><circle cx="370.9" cy="611.8" r="4.2"/><circle cx="371.7" cy="642.7" r="4.2"/><circle cx="344.6" cy="590.6" r="4.2"/><circle cx="352.3" cy="586.2" r="4.2"/><circle cx="356.9" cy="634.5" r="4.2"/></g>
<g fill="#e1262d"><circle cx="395" cy="530.7" r="3.0"/><circle cx="312.6" cy="587" r="3.0"/><circle cx="521.7" cy="562.7" r="3.0"/><circle cx="495.8" cy="593" r="3.0"/><circle cx="453" cy="633" r="3.0"/><circle cx="437" cy="475" r="3.0"/><circle cx="499" cy="532.5" r="3.0"/><circle cx="425.5" cy="497.5" r="3.0"/><circle cx="415.5" cy="540" r="3.0"/><circle cx="392.6" cy="582.5" r="3.0"/><circle cx="413.2" cy="608.5" r="3.0"/><circle cx="366.1" cy="577.2" r="3.0"/><circle cx="375.8" cy="561.2" r="3.0"/><circle cx="375.3" cy="572.5" r="3.0"/><circle cx="370.2" cy="590.8" r="3.0"/><circle cx="401.5" cy="594.1" r="3.0"/><circle cx="388.3" cy="620.5" r="3.0"/><circle cx="373.8" cy="555.3" r="3.0"/><circle cx="397.2" cy="599.4" r="3.0"/><circle cx="403.1" cy="616.7" r="3.0"/><circle cx="388" cy="629.3" r="3.0"/><circle cx="362.8" cy="618" r="3.0"/><circle cx="421" cy="616.9" r="3.0"/><circle cx="394.9" cy="561" r="3.0"/><circle cx="357.7" cy="620.9" r="3.0"/><circle cx="412.6" cy="638.6" r="3.0"/><circle cx="422.6" cy="564.8" r="3.0"/><circle cx="437.3" cy="587.4" r="3.0"/><circle cx="397.2" cy="577" r="3.0"/><circle cx="385.2" cy="557.1" r="3.0"/><circle cx="379.9" cy="634.8" r="3.0"/><circle cx="368.2" cy="603.1" r="3.0"/><circle cx="357.2" cy="592.2" r="3.0"/><circle cx="356.6" cy="570.4" r="3.0"/><circle cx="367.7" cy="564.9" r="3.0"/><circle cx="375.3" cy="589.4" r="3.0"/><circle cx="381.2" cy="586.7" r="3.0"/><circle cx="339.1" cy="625.7" r="3.0"/><circle cx="404.5" cy="625.2" r="3.0"/><circle cx="421.7" cy="604.2" r="3.0"/><circle cx="369.3" cy="571.8" r="3.0"/><circle cx="455.4" cy="612" r="3.0"/><circle cx="454.8" cy="568.9" r="3.0"/><circle cx="452.3" cy="575.7" r="3.0"/><circle cx="449.4" cy="583.7" r="3.0"/><circle cx="422.2" cy="546" r="3.0"/><circle cx="428.9" cy="540.8" r="3.0"/></g>
<g fill="#30276f"><circle cx="107" cy="484" r="3.8"/></g>
<g fill="#e1262d"><circle cx="107" cy="506.7" r="3.0"/></g>
<text x="118" y="489.5" font-size="16.4" text-anchor="start">Jack Hills</text>
<text x="118" y="512" font-size="16.4" text-anchor="start">Barberton</text>
<text x="461.5" y="451" font-size="16.4" text-anchor="start">CAS-type</text>
<text x="123.5" y="633.5" font-size="16.4" text-anchor="start">MOR-type</text>
<text x="523" y="653" font-size="16.4" text-anchor="start">OI-type</text>
<text x="223" y="562" font-size="16.4" text-anchor="start" transform="rotate(-41.5 223 562)">Magmatic arc array</text>
<text x="329" y="496" font-size="16.4" text-anchor="start" transform="rotate(-41 329 496)">95%</text>
<text x="533" y="537" font-size="16.4" text-anchor="start" transform="rotate(-33 533 537)">Mantle zircon array</text>
<text x="200" y="708.5" font-size="16.4" text-anchor="start" transform="rotate(-90 200 708.5)">95%</text>
<text x="418" y="691" font-size="16.4" text-anchor="start" transform="rotate(-10 418 691)">95%</text>
</g>
<g id="panel_c">
<text x="-0.5" y="845" font-size="21" text-anchor="start" font-weight="bold" style="fill:#111;stroke:#111;stroke-width:0.9px">c</text>
<path d="M275.7 987.4C277.4 980.4 276.7 983.1 284 977C291.3 970.9 289.6 975.7 297.5 969C305.4 962.3 299.8 964.9 307.6 957C315.4 949.1 310.9 951.5 321 945.4C331.1 939.3 325.5 942.2 337.8 938.7C350.1 935.2 343.4 936.7 358 935C372.6 933.3 363 932.5 381.5 933.7C400 934.9 395.1 934.3 413.6 938.7C432.1 943.1 422.5 943.6 437 947C451.5 950.4 448.7 947.1 457 948.8C465.3 950.5 463.7 949.3 462 952C460.3 954.7 458.1 952.5 452 957C445.9 961.5 443.8 959.3 443.8 965.5C443.8 971.7 444.3 970.5 452 975.6C459.7 980.7 455.2 977.9 467 980.7C478.8 983.5 474 981.2 487.5 984C501 986.8 498.1 985.1 507.6 989C517.1 992.9 514.9 990.8 516 995.8C517.1 1000.8 518.3 1000.1 511 1004C503.7 1007.9 507.7 1006.2 494 1007.5C480.3 1008.8 488 1007.2 470 1008C452 1008.8 460 1008.7 440 1010C420 1011.3 430 1012 410 1012C390 1012 398.3 1013 380 1010C361.7 1007 369.1 1007.2 355 1003C340.9 998.8 346.1 998.5 337.8 997.5C329.5 996.5 338.6 997.2 330 1000C321.4 1002.8 322.7 1003 312 1006C301.3 1009 306 1009 298 1009C290 1009 294.3 1009.7 288 1006C281.7 1002.3 283.1 1004.2 279 998C274.9 991.8 274 994.4 275.7 987.4Z" fill="#f7dd19" fill-opacity="0.5"/>
<path d="M275.7 987.4C277.4 980.4 276.7 983.1 284 977C291.3 970.9 289.6 975.7 297.5 969C305.4 962.3 299.8 964.9 307.6 957C315.4 949.1 310.9 951.5 321 945.4C331.1 939.3 325.5 942.2 337.8 938.7C350.1 935.2 343.4 936.7 358 935C372.6 933.3 363 932.5 381.5 933.7C400 934.9 395.1 934.3 413.6 938.7C432.1 943.1 422.5 943.6 437 947C451.5 950.4 448.7 947.1 457 948.8C465.3 950.5 463.7 949.3 462 952C460.3 954.7 458.1 952.5 452 957C445.9 961.5 443.8 959.3 443.8 965.5C443.8 971.7 444.3 970.5 452 975.6C459.7 980.7 455.2 977.9 467 980.7C478.8 983.5 474 981.2 487.5 984C501 986.8 498.1 985.1 507.6 989C517.1 992.9 514.9 990.8 516 995.8C517.1 1000.8 518.3 1000.1 511 1004C503.7 1007.9 507.7 1006.2 494 1007.5C480.3 1008.8 488 1007.2 470 1008C452 1008.8 460 1008.7 440 1010C420 1011.3 430 1012 410 1012C390 1012 398.3 1013 380 1010C361.7 1007 369.1 1007.2 355 1003C340.9 998.8 346.1 998.5 337.8 997.5C329.5 996.5 338.6 997.2 330 1000C321.4 1002.8 322.7 1003 312 1006C301.3 1009 306 1009 298 1009C290 1009 294.3 1009.7 288 1006C281.7 1002.3 283.1 1004.2 279 998C274.9 991.8 274 994.4 275.7 987.4Z" fill="none" stroke="#d6a8b0" stroke-width="2" stroke-dasharray="13 3.5" stroke-opacity="0.85"/>
<path d="M265.6 984C267.3 979.5 261.2 978.4 270.7 970.6C280.2 962.8 282.9 967.8 294 960.5C305.1 953.2 295 956.1 304 948.8C313 941.5 308.7 944.3 321 938.7C333.3 933.1 325.3 935 341 932C356.7 929 350 930.4 368 929.6C386 928.8 384.3 928.8 395 929.6C405.7 930.4 390.4 928.4 400 932C409.6 935.6 410.2 937.1 423.7 940.4C437.2 943.7 429.3 942 440.4 942C451.5 942 451.5 940.9 457 940.4" fill="none" stroke="#b8431e" stroke-width="2.1" stroke-dasharray="12 8.5" stroke-dashoffset="0" stroke-linecap="butt"/>
<path d="M464 960.5C469.6 959.9 470.1 961 480.7 958.8C491.3 956.6 490.8 955.5 495.8 953.8" fill="none" stroke="#b8431e" stroke-width="2.1" stroke-dasharray="12 8.5" stroke-dashoffset="0" stroke-linecap="butt"/>
<path d="M470 975C473.6 976.3 471.5 976.7 480.7 979C489.9 981.3 486.9 978.7 497.5 982C508.1 985.3 505.3 984.4 512.6 989C519.9 993.6 518.9 990.1 519.4 995.8C519.9 1001.5 522.1 1000.9 514 1006C505.9 1011.1 501.3 1009.3 495 1011" fill="none" stroke="#b8431e" stroke-width="2.1" stroke-dasharray="12 8.5" stroke-dashoffset="0" stroke-linecap="butt"/>
<path d="M300 990C303 984.7 304.3 983.3 309 974C313.7 964.7 307.7 968.7 314 962C320.3 955.3 319 958.3 328 954C337 949.7 330.3 952.3 341 949C351.7 945.7 345.3 946.3 360 944C374.7 941.7 368.3 941.3 385 942C401.7 942.7 395 942.3 410 946C425 949.7 423.3 950.7 430 953" fill="none" stroke="#b8431e" stroke-width="2.1" stroke-dasharray="12 8.5" stroke-dashoffset="0" stroke-linecap="butt"/>
<path d="M464 982C469.6 983.7 469.5 984.1 480.7 987C491.9 989.9 488.1 987.2 497.5 990.7C506.9 994.2 505.2 995.2 509 997.5" fill="none" stroke="#b8431e" stroke-width="2.1" stroke-dasharray="12 8.5" stroke-dashoffset="0" stroke-linecap="butt"/>
<path d="M200 1034C199.2 1029.1 200 1032.3 203 1029C206 1025.7 203.3 1028.3 209 1024C214.7 1019.7 212 1021 220 1016C228 1011 224.7 1013.3 233 1009C241.3 1004.7 237.3 1006.8 245 1003C252.7 999.2 247.7 1001.7 256 997.5C264.3 993.3 262 994 270 990.5C278 987 273.3 988.6 280 987C286.7 985.4 280.8 985 290 985.7C299.2 986.4 294.3 986.6 307.6 989C320.9 991.4 315.9 990.3 330 993C344.1 995.7 337.3 992 350 997C362.7 1002 360.7 997 368 1008C375.3 1019 370 1012.7 372 1030C374 1047.3 373 1040.3 374 1060C375 1079.7 374 1075.3 375 1089C376 1102.7 378 1094.7 377 1101C376 1107.3 378.7 1105.3 372 1108C365.3 1110.7 370.3 1110.3 357 1109C343.7 1107.7 346 1104 332 1104C318 1104 325.7 1107 315 1109C304.3 1111 310.3 1111.1 300 1110C289.7 1108.9 296 1110 284 1105.8C272 1101.6 276.2 1104.8 264 1097.5C251.8 1090.2 257.3 1094.2 247.3 1084C237.3 1073.8 243 1077.7 234 1067C225 1056.3 230 1059.8 220.4 1052C210.8 1044.2 212.1 1049.7 205.3 1043.7C198.5 1037.7 200.8 1038.9 200 1034Z" fill="#5ea945" fill-opacity="0.5"/>
<path d="M200 1034C199.2 1029.1 200 1032.3 203 1029C206 1025.7 203.3 1028.3 209 1024C214.7 1019.7 212 1021 220 1016C228 1011 224.7 1013.3 233 1009C241.3 1004.7 237.3 1006.8 245 1003C252.7 999.2 247.7 1001.7 256 997.5C264.3 993.3 262 994 270 990.5C278 987 273.3 988.6 280 987C286.7 985.4 280.8 985 290 985.7C299.2 986.4 294.3 986.6 307.6 989C320.9 991.4 315.9 990.3 330 993C344.1 995.7 337.3 992 350 997C362.7 1002 360.7 997 368 1008C375.3 1019 370 1012.7 372 1030C374 1047.3 373 1040.3 374 1060C375 1079.7 374 1075.3 375 1089C376 1102.7 378 1094.7 377 1101C376 1107.3 378.7 1105.3 372 1108C365.3 1110.7 370.3 1110.3 357 1109C343.7 1107.7 346 1104 332 1104C318 1104 325.7 1107 315 1109C304.3 1111 310.3 1111.1 300 1110C289.7 1108.9 296 1110 284 1105.8C272 1101.6 276.2 1104.8 264 1097.5C251.8 1090.2 257.3 1094.2 247.3 1084C237.3 1073.8 243 1077.7 234 1067C225 1056.3 230 1059.8 220.4 1052C210.8 1044.2 212.1 1049.7 205.3 1043.7C198.5 1037.7 200.8 1038.9 200 1034Z" fill="none" stroke="#b9c4b4" stroke-width="2" stroke-dasharray="13 3.5" stroke-opacity="0.85"/>
<path d="M341 990.7C336.6 990.1 336.7 991.2 327.7 989C318.7 986.8 324.1 987.7 314 984C303.9 980.3 308.6 979.3 297.5 978C286.4 976.7 293 976.9 280.7 980C268.4 983.1 274 982.4 260.6 987.4C247.2 992.4 252.9 989.7 240.6 995C228.3 1000.3 237.2 995.1 223.8 1003.4C210.4 1011.7 212.6 1009.9 200.3 1020C188 1030.1 191.4 1025.8 186.9 1033.7C182.4 1041.6 182.4 1037.6 186.9 1043.7C191.4 1049.8 191.4 1045.9 200.3 1052C209.2 1058.1 207.1 1055.3 213.7 1062C220.3 1068.7 217.9 1068.7 220 1072" fill="none" stroke="#4a7a32" stroke-width="2.1" stroke-dasharray="12 8.5" stroke-dashoffset="0" stroke-linecap="butt"/>
<path d="M250.7 1099C257.4 1103 257.4 1104.2 270.8 1110.9C284.2 1117.6 278.7 1115.6 291 1119C303.3 1122.4 297.8 1123.1 307.8 1121C317.8 1118.9 309.8 1116.4 321 1112.6C332.2 1108.8 326.8 1108.2 341.3 1109.5C355.8 1110.8 351.8 1115.4 364.5 1116.5C377.2 1117.6 370.3 1118.6 379.4 1112.8C388.5 1107 386.8 1106.9 391.8 1099C396.8 1091.1 394.2 1098.7 394.3 1089C394.4 1079.3 392.8 1076.3 392 1070" fill="none" stroke="#4a7a32" stroke-width="2.1" stroke-dasharray="12 8.5" stroke-dashoffset="0" stroke-linecap="butt"/>
<path d="M254 1010C247.3 1012.3 244.6 1011.2 233.9 1016.9C223.2 1022.6 225 1018.6 222 1027C219 1035.4 220 1033.1 225 1042C230 1050.9 228.4 1044.3 237 1053.8C245.6 1063.3 240.5 1060.5 250.7 1070.6C260.9 1080.7 254.1 1076.7 267.5 1084C280.9 1091.3 275.3 1090.2 291 1092.4C306.7 1094.6 300 1090.2 314.5 1090.7C329 1091.2 320.1 1090.6 334.6 1094C349.1 1097.4 346.2 1099.6 358 1100.8C369.8 1102 366.7 1104.2 370 1097.5C373.3 1090.8 373.1 1091.9 368 1080.7C362.9 1069.5 363.7 1074.1 354.8 1064C345.9 1053.9 349.2 1060.5 341.3 1050.4C333.4 1040.3 336.4 1044.5 331 1033.7C325.6 1022.9 327 1023.2 325 1018" fill="none" stroke="#4a7a32" stroke-width="2.1" stroke-dasharray="12 8.5" stroke-dashoffset="0" stroke-linecap="butt"/>
<path d="M245.6 1023.6C246.2 1031.4 241.2 1034.2 247.3 1047C253.4 1059.8 250.6 1054.1 264 1062C277.4 1069.9 273 1067.3 287.6 1070.6C302.2 1073.9 294.3 1073.2 307.8 1072C321.3 1070.8 317.3 1066 328 1067C338.7 1068 336 1072.3 340 1075" fill="none" stroke="#4a7a32" stroke-width="2.1" stroke-dasharray="12 8.5" stroke-dashoffset="0" stroke-linecap="butt"/>
<path d="M326 1000C332.7 994.7 330.3 1000.3 350 1002C369.7 1003.7 361.7 1003.7 385 1005C408.3 1006.3 395 1005.7 420 1006C445 1006.3 435 1006 460 1006C485 1006 477 1005.2 495 1006C513 1006.8 503.3 1004.8 514 1008.5C524.7 1012.2 519.3 1010.8 527 1017C534.7 1023.2 530.2 1021 537 1027C543.8 1033 539.5 1029 547.5 1035C555.5 1041 552.2 1038.7 561 1045C569.8 1051.3 566.8 1048.3 574 1054C581.2 1059.7 580.4 1055.3 582.7 1062C585 1068.7 584.9 1066.7 581 1074C577.1 1081.3 577.7 1077.3 571 1084C564.3 1090.7 566 1086.2 561 1094C556 1101.8 558.8 1098.5 556 1107.5C553.2 1116.5 557.6 1113.2 552.5 1121C547.4 1128.8 550.2 1125.4 540.7 1131C531.2 1136.6 535.2 1133.2 524 1137.7C512.8 1142.2 518.3 1138.9 507 1144.5C495.7 1150.1 501.1 1148 490 1154.5C478.9 1161 483.6 1160.2 473.6 1164C463.6 1167.8 471.9 1166.7 460 1166C448.1 1165.3 450.7 1165 438 1162C425.3 1159 430.1 1162.1 422 1157C413.9 1151.9 419.3 1157.6 413.6 1146.6C407.9 1135.6 410.5 1137.5 405 1124C399.5 1110.5 403 1115.7 397 1106C391 1096.3 394.7 1102.3 387 1095C379.3 1087.7 382.3 1093 374 1084C365.7 1075 369.7 1079.3 362 1068C354.3 1056.7 357.7 1061 351 1050C344.3 1039 349 1045.7 342 1035C335 1024.3 335.3 1029.7 330 1018C324.7 1006.3 319.3 1005.3 326 1000Z" fill="#6880c4" fill-opacity="0.5"/>
<path d="M326 1000C332.7 994.7 330.3 1000.3 350 1002C369.7 1003.7 361.7 1003.7 385 1005C408.3 1006.3 395 1005.7 420 1006C445 1006.3 435 1006 460 1006C485 1006 477 1005.2 495 1006C513 1006.8 503.3 1004.8 514 1008.5C524.7 1012.2 519.3 1010.8 527 1017C534.7 1023.2 530.2 1021 537 1027C543.8 1033 539.5 1029 547.5 1035C555.5 1041 552.2 1038.7 561 1045C569.8 1051.3 566.8 1048.3 574 1054C581.2 1059.7 580.4 1055.3 582.7 1062C585 1068.7 584.9 1066.7 581 1074C577.1 1081.3 577.7 1077.3 571 1084C564.3 1090.7 566 1086.2 561 1094C556 1101.8 558.8 1098.5 556 1107.5C553.2 1116.5 557.6 1113.2 552.5 1121C547.4 1128.8 550.2 1125.4 540.7 1131C531.2 1136.6 535.2 1133.2 524 1137.7C512.8 1142.2 518.3 1138.9 507 1144.5C495.7 1150.1 501.1 1148 490 1154.5C478.9 1161 483.6 1160.2 473.6 1164C463.6 1167.8 471.9 1166.7 460 1166C448.1 1165.3 450.7 1165 438 1162C425.3 1159 430.1 1162.1 422 1157C413.9 1151.9 419.3 1157.6 413.6 1146.6C407.9 1135.6 410.5 1137.5 405 1124C399.5 1110.5 403 1115.7 397 1106C391 1096.3 394.7 1102.3 387 1095C379.3 1087.7 382.3 1093 374 1084C365.7 1075 369.7 1079.3 362 1068C354.3 1056.7 357.7 1061 351 1050C344.3 1039 349 1045.7 342 1035C335 1024.3 335.3 1029.7 330 1018C324.7 1006.3 319.3 1005.3 326 1000Z" fill="none" stroke="#d6a8b0" stroke-width="2" stroke-dasharray="13 3.5" stroke-opacity="0.85"/>
<path d="M524 1011.8C529.6 1015.7 529.5 1015.2 540.7 1023.6C551.9 1032 546.3 1029.2 557.5 1037C568.7 1044.8 564.2 1042 574.3 1047C584.4 1052 579.4 1048.1 587.8 1052C596.2 1055.9 594.5 1053.1 599.5 1058.8C604.5 1064.5 604.6 1061.7 602.9 1069C601.2 1076.3 601.8 1072.4 594.5 1080.7C587.2 1089 586.6 1085.1 581 1094C575.4 1102.9 578.2 1097.5 577.7 1107.5C577.2 1117.5 580.5 1112.8 579.4 1124C578.3 1135.2 578.4 1132 574.3 1141C570.2 1150 569.4 1147.7 567 1151" fill="none" stroke="#6f5fb9" stroke-width="2.1" stroke-dasharray="12 8.5" stroke-dashoffset="0" stroke-linecap="butt"/>
<path d="M522 1149C514.8 1152 511.1 1150.6 500.4 1157.9C489.7 1165.2 498.9 1164.3 490 1171C481.1 1177.7 484.7 1175.7 473.6 1178C462.5 1180.3 468.3 1180 456.8 1178C445.3 1176 452.4 1176.3 439 1172C425.6 1167.7 428.2 1172 416.6 1165C405 1158 411.6 1163.9 404.2 1151C396.8 1138.1 401.7 1142.9 394.3 1126.4C386.9 1109.9 389.3 1115.7 381.9 1101.6C374.5 1087.5 378.6 1095.6 372 1084C365.4 1072.4 369.5 1077.5 362 1066.8C354.5 1056.1 358.7 1066 349.6 1052C340.5 1038 341.9 1038.7 334.7 1024.7C327.5 1010.7 330.2 1014.9 327.9 1010" fill="none" stroke="#6f5fb9" stroke-width="2.1" stroke-dasharray="12 8.5" stroke-dashoffset="0" stroke-linecap="butt"/>
<path d="M498.8 1022C504.9 1028.1 507.7 1027.6 517.2 1040.4C526.7 1053.2 523.4 1046 527.3 1060.5C531.2 1075 531.2 1070.6 529 1084C526.8 1097.4 529 1093 520.6 1100.8C512.2 1108.6 516.1 1105.3 503.8 1107.5C491.5 1109.7 497.1 1109.2 483.7 1107.5C470.3 1105.8 475.8 1106.7 463.5 1102.5C451.2 1098.3 461.5 1099.5 446.7 1095C431.9 1090.5 433.2 1093.4 419 1089C404.8 1084.6 411.6 1087.4 404.2 1081.7C396.8 1076 400.5 1079.2 396.8 1071.8C393.1 1064.4 392.6 1068.3 393 1059.4C393.4 1050.5 396.3 1049.8 398 1045" fill="none" stroke="#6f5fb9" stroke-width="2.1" stroke-dasharray="12 8.5" stroke-dashoffset="0" stroke-linecap="butt"/>
<path d="M544 1040C548.5 1044.6 549.2 1046.5 557.5 1053.8C565.8 1061.1 565.6 1055.9 569 1062C572.4 1068.1 573.7 1063.7 567.6 1072C561.5 1080.3 558.7 1076.3 550.8 1087C542.9 1097.7 548.5 1093.8 544 1104C539.5 1114.2 546.3 1109.7 537.4 1117.6C528.5 1125.5 531.8 1123.9 517.2 1127.7C502.6 1131.5 508.2 1126.9 493.7 1129C479.2 1131.1 485.2 1127.7 473.6 1134C462 1140.3 467.9 1142.3 458.8 1148C449.7 1153.7 454.7 1152.4 446.4 1151C438.1 1149.6 441 1151.2 434 1143.8C427 1136.4 428.6 1138.8 425.3 1128.9C422 1119 429.4 1123.1 424 1114C418.6 1104.9 419.7 1109.9 409 1101.6C398.3 1093.3 399.8 1099.5 391.8 1089C383.8 1078.5 388.9 1083 385 1070C381.1 1057 381.7 1056.7 380 1050" fill="none" stroke="#6f5fb9" stroke-width="2.1" stroke-dasharray="12 8.5" stroke-dashoffset="0" stroke-linecap="butt"/>
<path d="M254 1033.7C252.9 1043.2 252.9 1040.3 260.7 1050.4C268.5 1060.5 266.3 1057.2 277.5 1063.9C288.7 1070.6 283.7 1068.9 294.3 1070.6C304.9 1072.3 301 1073.5 309.4 1069C317.8 1064.5 316.7 1065.4 319.5 1057C322.3 1048.6 322.6 1052.7 317.8 1043.7C313 1034.7 314.3 1037.2 305 1030C295.7 1022.8 299.2 1025.8 290 1022C280.8 1018.2 286.2 1018.5 277.5 1018.5C268.8 1018.5 271.8 1016.9 264 1022C256.2 1027.1 255.1 1024.2 254 1033.7Z" fill="none" stroke="#6f5fb9" stroke-width="2.1" stroke-dasharray="12 8.5" stroke-dashoffset="0" stroke-linecap="butt"/>
<path d="M267.5 1037C265.8 1042.6 264.1 1042.6 270.8 1048.8C277.5 1055 276.4 1053.8 287.6 1055.5C298.8 1057.2 297.7 1057.7 304.4 1053.8C311.1 1049.9 311.2 1050.4 307.8 1043.7C304.4 1037 305 1037.6 294.3 1033.7C283.6 1029.8 284.7 1030.9 275.8 1032C266.9 1033.1 269.2 1031.4 267.5 1037Z" fill="none" stroke="#6f5fb9" stroke-width="2.1" stroke-dasharray="12 8.5" stroke-dashoffset="0" stroke-linecap="butt"/>
<g fill="#757575" fill-opacity="0.48">
<path d="M226 999H350L362 1003 382 1042 398 1109 419 1173.5H400.5L379.4 1109 363 1042 345 1008H226Z"/>
<path d="M516 990L612 983V992L516 998Z"/>
</g>
<g stroke="#3a3a3a" stroke-width="1.1" fill="none">
<path d="M80.5 843.5V1173H660.5"/>
<path d="M124.1 1173v-5.8M149.7 1173v-5.8M167.8 1173v-5.8M181.9 1173v-5.8M193.3 1173v-5.8M203 1173v-5.8M211.4 1173v-5.8M218.9 1173v-5.8M225.5 1173v-9.5M269.1 1173v-5.8M294.7 1173v-5.8M312.8 1173v-5.8M326.9 1173v-5.8M338.3 1173v-5.8M348 1173v-5.8M356.4 1173v-5.8M363.9 1173v-5.8M370.5 1173v-9.5M414.1 1173v-5.8M439.7 1173v-5.8M457.8 1173v-5.8M471.9 1173v-5.8M483.3 1173v-5.8M493 1173v-5.8M501.4 1173v-5.8M508.9 1173v-5.8M515.5 1173v-9.5M559.1 1173v-5.8M584.7 1173v-5.8M602.8 1173v-5.8M616.9 1173v-5.8M628.3 1173v-5.8M638 1173v-5.8M646.4 1173v-5.8M653.9 1173v-5.8M80.5 1148.2h5.8M80.5 1133.7h5.8M80.5 1123.4h5.8M80.5 1115.4h5.8M80.5 1108.9h5.8M80.5 1103.4h5.8M80.5 1098.6h5.8M80.5 1094.4h5.8M80.5 1090.6h10M80.5 1065.8h5.8M80.5 1051.3h5.8M80.5 1041h5.8M80.5 1033h5.8M80.5 1026.5h5.8M80.5 1021h5.8M80.5 1016.2h5.8M80.5 1012h5.8M80.5 1008.2h10M80.5 983.5h5.8M80.5 968.9h5.8M80.5 958.7h5.8M80.5 950.7h5.8M80.5 944.1h5.8M80.5 938.6h5.8M80.5 933.9h5.8M80.5 929.6h5.8M80.5 925.9h10M80.5 901.1h5.8M80.5 886.6h5.8M80.5 876.3h5.8M80.5 868.3h5.8M80.5 861.8h5.8M80.5 856.3h5.8M80.5 851.5h5.8M80.5 847.3h5.8M80.5 843.5h10"/>
</g>
<text x="80.5" y="1197" font-size="16" text-anchor="middle">0.0001</text>
<text x="225.5" y="1197" font-size="16" text-anchor="middle">0.0010</text>
<text x="371.5" y="1197" font-size="16" text-anchor="middle">0.0100</text>
<text x="517.5" y="1197" font-size="16" text-anchor="middle">0.1000</text>
<text x="654" y="1197" font-size="16" text-anchor="middle">1.0000</text>
<text x="74.5" y="1178" font-size="16" text-anchor="end">0.001</text>
<text x="74.5" y="1095.6" font-size="16" text-anchor="end">0.010</text>
<text x="74.5" y="1013.2" font-size="16" text-anchor="end">0.100</text>
<text x="74.5" y="930.9" font-size="16" text-anchor="end">1.000</text>
<text x="74.5" y="848.5" font-size="16" text-anchor="end">10.000</text>
<text x="370.5" y="1219.5" font-size="16.4" text-anchor="middle">Nb/Yb</text>
<text x="24" y="1008.2" font-size="16.4" text-anchor="middle" transform="rotate(-90 24 1008.2)">Sc/Yb</text>
<g fill="#30276f"><circle cx="280.7" cy="967.2" r="4.2"/><circle cx="323.4" cy="951.5" r="4.2"/><circle cx="303" cy="994" r="4.2"/><circle cx="310" cy="1006.5" r="4.2"/><circle cx="325" cy="1007.5" r="4.2"/><circle cx="301" cy="1015" r="4.2"/><circle cx="318.3" cy="1033.7" r="4.2"/><circle cx="332.8" cy="957.8" r="4.2"/><circle cx="331.8" cy="968" r="4.2"/><circle cx="329.4" cy="975.6" r="4.2"/><circle cx="336" cy="982" r="4.2"/><circle cx="330.4" cy="984" r="4.2"/><circle cx="341" cy="990.7" r="4.2"/><circle cx="337" cy="996.8" r="4.2"/><circle cx="350.6" cy="946.4" r="4.2"/><circle cx="348" cy="955.5" r="4.2"/><circle cx="349.6" cy="962" r="4.2"/><circle cx="356.3" cy="972" r="4.2"/><circle cx="348" cy="977" r="4.2"/><circle cx="358" cy="952" r="4.2"/><circle cx="364" cy="952" r="4.2"/><circle cx="371.4" cy="943.7" r="4.2"/><circle cx="374.8" cy="945.4" r="4.2"/><circle cx="370.7" cy="957" r="4.2"/><circle cx="387.5" cy="940.4" r="4.2"/><circle cx="404.3" cy="934.3" r="4.2"/><circle cx="535" cy="899.4" r="4.2"/><circle cx="430.4" cy="921" r="4.2"/><circle cx="432" cy="932" r="4.2"/><circle cx="422.6" cy="935.3" r="4.2"/><circle cx="409.5" cy="928.6" r="4.2"/><circle cx="403.5" cy="933.7" r="4.2"/><circle cx="508.6" cy="952" r="4.2"/><circle cx="507" cy="957.8" r="4.2"/><circle cx="495.8" cy="961" r="4.2"/><circle cx="508.6" cy="968" r="4.2"/><circle cx="479" cy="971" r="4.2"/><circle cx="448.8" cy="968" r="4.2"/><circle cx="454.5" cy="978" r="4.2"/><circle cx="460.6" cy="989" r="4.2"/><circle cx="463.3" cy="1002.5" r="4.2"/><circle cx="470.7" cy="1009" r="4.2"/><circle cx="485" cy="1004" r="4.2"/><circle cx="480" cy="1014" r="4.2"/><circle cx="496.9" cy="1020" r="4.2"/><circle cx="510.3" cy="1013.6" r="4.2"/><circle cx="522" cy="1035" r="4.2"/><circle cx="476.7" cy="1027" r="4.2"/><circle cx="495.8" cy="1037.7" r="4.2"/><circle cx="370.7" cy="1034.6" r="4.2"/><circle cx="393.8" cy="1044.5" r="4.2"/><circle cx="400" cy="1070.6" r="4.2"/><circle cx="422.8" cy="1073" r="4.2"/><circle cx="417.9" cy="1085.5" r="4.2"/><circle cx="431.5" cy="1092.9" r="4.2"/><circle cx="445.9" cy="1085.5" r="4.2"/><circle cx="410.4" cy="1039.6" r="4.2"/><circle cx="416.6" cy="1037" r="4.2"/><circle cx="421.6" cy="1039.6" r="4.2"/><circle cx="414" cy="1045.8" r="4.2"/><circle cx="419" cy="1049.5" r="4.2"/><circle cx="427.8" cy="1048" r="4.2"/><circle cx="429" cy="1054.4" r="4.2"/><circle cx="439" cy="1052" r="4.2"/><circle cx="448" cy="1054" r="4.2"/><circle cx="450" cy="1061.4" r="4.2"/><circle cx="458.8" cy="1059.9" r="4.2"/><circle cx="466.7" cy="1063" r="4.2"/><circle cx="445.9" cy="1038.8" r="4.2"/><circle cx="460" cy="1035.8" r="4.2"/><circle cx="465" cy="1038" r="4.2"/><circle cx="414" cy="1027" r="4.2"/><circle cx="425.3" cy="1027" r="4.2"/><circle cx="430.3" cy="1024.7" r="4.2"/><circle cx="435" cy="1024.7" r="4.2"/><circle cx="441.4" cy="1023.4" r="4.2"/><circle cx="446.4" cy="1022" r="4.2"/><circle cx="403" cy="1027" r="4.2"/><circle cx="399.3" cy="1023.4" r="4.2"/><circle cx="384.4" cy="1023.4" r="4.2"/><circle cx="388" cy="1019.7" r="4.2"/><circle cx="393" cy="1017" r="4.2"/><circle cx="358.3" cy="1018.5" r="4.2"/><circle cx="365.8" cy="1017" r="4.2"/><circle cx="372" cy="1021" r="4.2"/><circle cx="338.5" cy="996" r="4.2"/><circle cx="342" cy="992.4" r="4.2"/><circle cx="509.5" cy="1014" r="4.2"/><circle cx="497" cy="1021" r="4.2"/><circle cx="480.3" cy="1014" r="4.2"/><circle cx="522.3" cy="1033.7" r="4.2"/><circle cx="545" cy="1038.7" r="4.2"/><circle cx="558.5" cy="1061.5" r="4.2"/><circle cx="497" cy="1038.7" r="4.2"/><circle cx="497" cy="1051" r="4.2"/><circle cx="473.6" cy="1047" r="4.2"/><circle cx="476.3" cy="1027" r="4.2"/><circle cx="455" cy="1037" r="4.2"/><circle cx="490.4" cy="1093.4" r="4.2"/><circle cx="525.6" cy="1143.8" r="4.2"/><circle cx="445" cy="1086.4" r="4.2"/><circle cx="435.3" cy="1007.1" r="4.2"/><circle cx="351.4" cy="999.1" r="4.2"/><circle cx="437.5" cy="969.6" r="4.2"/><circle cx="411" cy="998.8" r="4.2"/><circle cx="412.7" cy="983.5" r="4.2"/><circle cx="436.4" cy="992.6" r="4.2"/><circle cx="428.8" cy="1005" r="4.2"/><circle cx="430.3" cy="996.1" r="4.2"/><circle cx="416.1" cy="1002.8" r="4.2"/><circle cx="422.1" cy="1000.4" r="4.2"/><circle cx="398.3" cy="1011.3" r="4.2"/><circle cx="408.4" cy="961.8" r="4.2"/><circle cx="388.6" cy="987.5" r="4.2"/><circle cx="399.1" cy="1002.7" r="4.2"/><circle cx="343.2" cy="1005.5" r="4.2"/><circle cx="356.3" cy="1012.6" r="4.2"/><circle cx="405.7" cy="990.5" r="4.2"/><circle cx="367.3" cy="992.7" r="4.2"/><circle cx="399.4" cy="985.9" r="4.2"/><circle cx="418.3" cy="974.1" r="4.2"/><circle cx="374.4" cy="981.7" r="4.2"/><circle cx="442.9" cy="983" r="4.2"/><circle cx="416.4" cy="991.3" r="4.2"/><circle cx="401.8" cy="956.7" r="4.2"/><circle cx="437" cy="1014.1" r="4.2"/><circle cx="411" cy="1033.3" r="4.2"/><circle cx="445.3" cy="975.8" r="4.2"/><circle cx="386.9" cy="1038.3" r="4.2"/><circle cx="387.7" cy="997.1" r="4.2"/><circle cx="464.7" cy="994.2" r="4.2"/><circle cx="419.1" cy="1008.8" r="4.2"/><circle cx="381.9" cy="972.4" r="4.2"/><circle cx="418.9" cy="1015.9" r="4.2"/><circle cx="444.2" cy="1012.7" r="4.2"/><circle cx="365.6" cy="1003.6" r="4.2"/><circle cx="414.4" cy="967.7" r="4.2"/><circle cx="391.6" cy="1003.2" r="4.2"/><circle cx="427.8" cy="961.5" r="4.2"/><circle cx="398.4" cy="993.5" r="4.2"/><circle cx="444" cy="995.4" r="4.2"/><circle cx="366.6" cy="973.4" r="4.2"/><circle cx="382.8" cy="991.5" r="4.2"/><circle cx="459" cy="1014.9" r="4.2"/><circle cx="428.7" cy="978.8" r="4.2"/><circle cx="386.4" cy="963.6" r="4.2"/><circle cx="385.9" cy="980.6" r="4.2"/><circle cx="436.6" cy="1032.9" r="4.2"/><circle cx="408.5" cy="976" r="4.2"/><circle cx="457.9" cy="1029.8" r="4.2"/><circle cx="394.9" cy="974.8" r="4.2"/><circle cx="429" cy="1013.4" r="4.2"/><circle cx="353.5" cy="993.2" r="4.2"/><circle cx="441.9" cy="1002.2" r="4.2"/><circle cx="371.5" cy="1012.9" r="4.2"/><circle cx="381.1" cy="1008.3" r="4.2"/><circle cx="430.1" cy="1039.3" r="4.2"/><circle cx="455.1" cy="1021.6" r="4.2"/><circle cx="395" cy="964.5" r="4.2"/><circle cx="457.9" cy="970.3" r="4.2"/><circle cx="429.7" cy="971.4" r="4.2"/><circle cx="404.5" cy="1008.9" r="4.2"/><circle cx="452.5" cy="989.7" r="4.2"/><circle cx="417.2" cy="959" r="4.2"/><circle cx="422.7" cy="987.2" r="4.2"/><circle cx="451" cy="1004.8" r="4.2"/><circle cx="381.5" cy="1001.3" r="4.2"/><circle cx="436.4" cy="953.8" r="4.2"/><circle cx="411.2" cy="956.2" r="4.2"/><circle cx="436.3" cy="1043.9" r="4.2"/><circle cx="376.6" cy="994.3" r="4.2"/><circle cx="432.1" cy="984.6" r="4.2"/><circle cx="387" cy="998.2" r="4.2"/><circle cx="427.5" cy="989.6" r="4.2"/><circle cx="424.2" cy="1009.1" r="4.2"/><circle cx="445.7" cy="1003.7" r="4.2"/><circle cx="411.3" cy="977.1" r="4.2"/><circle cx="390.3" cy="980.4" r="4.2"/><circle cx="423.6" cy="985.7" r="4.2"/><circle cx="444.5" cy="978.4" r="4.2"/><circle cx="426.7" cy="996.7" r="4.2"/><circle cx="389.7" cy="974.4" r="4.2"/><circle cx="468.4" cy="975.8" r="4.2"/><circle cx="407.8" cy="992" r="4.2"/><circle cx="416.8" cy="974.2" r="4.2"/><circle cx="442.6" cy="987.5" r="4.2"/><circle cx="405.3" cy="997" r="4.2"/><circle cx="388" cy="961.3" r="4.2"/><circle cx="466.7" cy="982.9" r="4.2"/><circle cx="413.2" cy="992.8" r="4.2"/><circle cx="394.8" cy="970.8" r="4.2"/><circle cx="385.5" cy="970.2" r="4.2"/><circle cx="441.5" cy="992.6" r="4.2"/><circle cx="452" cy="972.4" r="4.2"/><circle cx="436.9" cy="983.5" r="4.2"/><circle cx="372.5" cy="991.5" r="4.2"/><circle cx="406.5" cy="981.2" r="4.2"/><circle cx="397.2" cy="1004.4" r="4.2"/><circle cx="437.7" cy="970.5" r="4.2"/><circle cx="371.4" cy="984.3" r="4.2"/><circle cx="414.4" cy="998.3" r="4.2"/><circle cx="416.6" cy="985.8" r="4.2"/><circle cx="454.4" cy="990.4" r="4.2"/><circle cx="428.8" cy="972.6" r="4.2"/><circle cx="431" cy="999.1" r="4.2"/><circle cx="407.8" cy="966.8" r="4.2"/><circle cx="376.6" cy="980.4" r="4.2"/><circle cx="377.3" cy="989.7" r="4.2"/><circle cx="452.7" cy="1002.4" r="4.2"/><circle cx="445.6" cy="1009.4" r="4.2"/><circle cx="435.8" cy="995.4" r="4.2"/><circle cx="414.3" cy="956" r="4.2"/><circle cx="435.5" cy="976.9" r="4.2"/><circle cx="433.7" cy="1010.3" r="4.2"/><circle cx="387.6" cy="1003" r="4.2"/><circle cx="437.7" cy="988.6" r="4.2"/><circle cx="449.3" cy="987.6" r="4.2"/><circle cx="394.9" cy="976.7" r="4.2"/><circle cx="422.3" cy="973.2" r="4.2"/><circle cx="377.7" cy="966.2" r="4.2"/><circle cx="448.1" cy="995.1" r="4.2"/><circle cx="401" cy="980.5" r="4.2"/><circle cx="376.4" cy="998.9" r="4.2"/><circle cx="409.4" cy="971.9" r="4.2"/><circle cx="390.8" cy="994.1" r="4.2"/><circle cx="405.1" cy="987" r="4.2"/><circle cx="467.1" cy="987.9" r="4.2"/><circle cx="460.1" cy="967.6" r="4.2"/><circle cx="424.8" cy="980" r="4.2"/><circle cx="398.3" cy="957.8" r="4.2"/><circle cx="392.9" cy="988.6" r="4.2"/><circle cx="436.9" cy="961.7" r="4.2"/><circle cx="374.6" cy="974.9" r="4.2"/><circle cx="398.4" cy="990.2" r="4.2"/><circle cx="440.9" cy="1006" r="4.2"/><circle cx="414.3" cy="1010" r="4.2"/><circle cx="459.1" cy="999.1" r="4.2"/><circle cx="384.7" cy="977.6" r="4.2"/><circle cx="449.1" cy="980.8" r="4.2"/><circle cx="370.4" cy="978.1" r="4.2"/><circle cx="429.2" cy="977.9" r="4.2"/><circle cx="407.4" cy="960.3" r="4.2"/><circle cx="404.4" cy="974.6" r="4.2"/><circle cx="438.7" cy="957" r="4.2"/><circle cx="404.2" cy="1010.6" r="4.2"/><circle cx="398.6" cy="995.3" r="4.2"/><circle cx="424" cy="967.5" r="4.2"/><circle cx="423.9" cy="1000.7" r="4.2"/><circle cx="430" cy="962.8" r="4.2"/><circle cx="419.2" cy="1001.6" r="4.2"/><circle cx="399.4" cy="972.6" r="4.2"/><circle cx="418.6" cy="992.3" r="4.2"/><circle cx="408" cy="954.7" r="4.2"/><circle cx="385.9" cy="991.9" r="4.2"/><circle cx="464.6" cy="996.4" r="4.2"/><circle cx="414.3" cy="969.2" r="4.2"/><circle cx="397.4" cy="985.1" r="4.2"/><circle cx="409.2" cy="1000.4" r="4.2"/><circle cx="420.6" cy="962.1" r="4.2"/><circle cx="443.8" cy="973.2" r="4.2"/><circle cx="440.9" cy="997.9" r="4.2"/><circle cx="387.5" cy="1008.1" r="4.2"/><circle cx="402.5" cy="962.4" r="4.2"/><circle cx="442.6" cy="968.1" r="4.2"/><circle cx="399.1" cy="1009.4" r="4.2"/><circle cx="411" cy="987.8" r="4.2"/><circle cx="435.8" cy="1005.4" r="4.2"/><circle cx="431.1" cy="993.4" r="4.2"/><circle cx="442" cy="982.6" r="4.2"/><circle cx="387.5" cy="984.7" r="4.2"/><circle cx="454.5" cy="995.3" r="4.2"/><circle cx="379.9" cy="1018.1" r="4.2"/><circle cx="452" cy="1015.1" r="4.2"/><circle cx="360.1" cy="1028.7" r="4.2"/><circle cx="424.6" cy="1020.9" r="4.2"/><circle cx="405.9" cy="1020.2" r="4.2"/><circle cx="467.3" cy="1016" r="4.2"/><circle cx="471.7" cy="1020.8" r="4.2"/><circle cx="393.4" cy="1029.9" r="4.2"/><circle cx="401.7" cy="1035.8" r="4.2"/><circle cx="393.5" cy="1037.7" r="4.2"/><circle cx="451.7" cy="1031.6" r="4.2"/><circle cx="425.2" cy="1033.6" r="4.2"/><circle cx="412.3" cy="1018.5" r="4.2"/><circle cx="382" cy="1029.6" r="4.2"/><circle cx="445.2" cy="1032.1" r="4.2"/><circle cx="461.7" cy="1023.4" r="4.2"/><circle cx="372.4" cy="1028.1" r="4.2"/><circle cx="376.6" cy="1035.9" r="4.2"/><circle cx="364.6" cy="1023.5" r="4.2"/><circle cx="353.1" cy="1021.6" r="4.2"/><circle cx="373.7" cy="1006.2" r="4.2"/><circle cx="377.4" cy="1024.1" r="4.2"/><circle cx="364.6" cy="1009.9" r="4.2"/><circle cx="419" cy="1023.7" r="4.2"/><circle cx="467.6" cy="1025.3" r="4.2"/><circle cx="418.8" cy="1030.7" r="4.2"/><circle cx="456" cy="1009.4" r="4.2"/><circle cx="400.5" cy="1017.1" r="4.2"/><circle cx="432.5" cy="1018.6" r="4.2"/><circle cx="463.5" cy="1010.8" r="4.2"/></g>
<path d="M80.5 1009.2H660" stroke="#628bd0" stroke-width="3" stroke-dasharray="5 4.3" fill="none"/>
<text x="312.6" y="922" font-size="16.4" text-anchor="start">CAS-type</text>
<text x="275" y="1141.5" font-size="16.4" text-anchor="start">MOR-type</text>
<text x="581.5" y="1107.5" font-size="16.4" text-anchor="start">OI-type</text>
<text x="535.7" y="1155.2" font-size="16.4" text-anchor="start">95%</text>
<text x="464" y="939" font-size="16.4" text-anchor="start" transform="rotate(20 464 939)">95%</text>
<text x="212.5" y="1078" font-size="16.4" text-anchor="start" transform="rotate(42 212.5 1078)">95%</text>
</g>
<g id="panel_d">
<text x="-0.5" y="1239" font-size="21" text-anchor="start" font-weight="bold" style="fill:#111;stroke:#111;stroke-width:0.9px">d</text>
<path d="M342 1324C340.8 1312.7 338.7 1316 342 1307C345.3 1298 345.2 1304.8 352 1297C358.8 1289.2 357.2 1293.7 362.3 1283.7C367.4 1273.7 362.3 1275.4 367.3 1267C372.3 1258.6 369.6 1261.3 377.4 1258.5C385.2 1255.7 381.9 1255.7 390.8 1258.5C399.7 1261.3 396.4 1260.8 404.2 1267C412 1273.2 406.4 1270.3 414.3 1277C422.2 1283.7 417.7 1281.4 427.8 1287C437.9 1292.6 433.3 1288.8 444.5 1293.8C455.7 1298.8 451.2 1295.3 461.3 1302C471.4 1308.7 465.8 1304.4 474.8 1314C483.8 1323.6 481.1 1319.5 488.2 1330.7C495.3 1341.9 491 1335.1 496 1347.5C501 1359.9 503.6 1354.2 503.3 1368C503 1381.8 499.4 1376.8 495 1388.8C490.6 1400.8 494 1395.1 490 1404C486 1412.9 490.3 1409.5 483 1415.6C475.7 1421.7 478.6 1419.5 468 1422.3C457.4 1425.1 461.4 1424.4 451.3 1424C441.2 1423.6 446.8 1420 437.8 1421C428.8 1422 435.3 1424 424.4 1427C413.5 1430 418.1 1430.7 405 1430C391.9 1429.3 397.3 1431.7 385 1425C372.7 1418.3 378 1421.7 368 1410C358 1398.3 361.7 1405 355 1390C348.3 1375 351.2 1381.4 348 1365C344.8 1348.6 347.5 1354.5 345.5 1340.8C343.5 1327.1 343.2 1335.3 342 1324Z" fill="#f7dd19" fill-opacity="0.5"/>
<path d="M342 1324C340.8 1312.7 338.7 1316 342 1307C345.3 1298 345.2 1304.8 352 1297C358.8 1289.2 357.2 1293.7 362.3 1283.7C367.4 1273.7 362.3 1275.4 367.3 1267C372.3 1258.6 369.6 1261.3 377.4 1258.5C385.2 1255.7 381.9 1255.7 390.8 1258.5C399.7 1261.3 396.4 1260.8 404.2 1267C412 1273.2 406.4 1270.3 414.3 1277C422.2 1283.7 417.7 1281.4 427.8 1287C437.9 1292.6 433.3 1288.8 444.5 1293.8C455.7 1298.8 451.2 1295.3 461.3 1302C471.4 1308.7 465.8 1304.4 474.8 1314C483.8 1323.6 481.1 1319.5 488.2 1330.7C495.3 1341.9 491 1335.1 496 1347.5C501 1359.9 503.6 1354.2 503.3 1368C503 1381.8 499.4 1376.8 495 1388.8C490.6 1400.8 494 1395.1 490 1404C486 1412.9 490.3 1409.5 483 1415.6C475.7 1421.7 478.6 1419.5 468 1422.3C457.4 1425.1 461.4 1424.4 451.3 1424C441.2 1423.6 446.8 1420 437.8 1421C428.8 1422 435.3 1424 424.4 1427C413.5 1430 418.1 1430.7 405 1430C391.9 1429.3 397.3 1431.7 385 1425C372.7 1418.3 378 1421.7 368 1410C358 1398.3 361.7 1405 355 1390C348.3 1375 351.2 1381.4 348 1365C344.8 1348.6 347.5 1354.5 345.5 1340.8C343.5 1327.1 343.2 1335.3 342 1324Z" fill="none" stroke="#d6a8b0" stroke-width="2" stroke-dasharray="13 3.5" stroke-opacity="0.85"/>
<path d="M313.6 1337.5C311.9 1333 311.3 1333 308.5 1324C305.7 1315 302.4 1320.7 305.2 1310.6C308 1300.5 308.6 1303.9 317 1293.8C325.4 1283.7 325.9 1284.9 330.4 1280.4" fill="none" stroke="#b8431e" stroke-width="2.1" stroke-dasharray="12 8.5" stroke-dashoffset="0" stroke-linecap="butt"/>
<path d="M355.6 1287C356.7 1282.6 354.5 1283.7 359 1273.7C363.5 1263.7 361.8 1265.3 369 1256.9C376.2 1248.5 371.2 1251.3 380.7 1248.5C390.2 1245.7 391.9 1248.5 397.5 1248.5" fill="none" stroke="#b8431e" stroke-width="2.1" stroke-dasharray="12 8.5" stroke-dashoffset="0" stroke-linecap="butt"/>
<path d="M432.8 1272C435.6 1273.1 433.9 1270.8 441.2 1275.3C448.5 1279.8 445.7 1278.2 454.6 1285.4C463.5 1292.6 459 1288.1 468 1297C477 1305.9 472.5 1300.8 481.5 1312C490.5 1323.2 487.2 1318.9 495 1330.7C502.8 1342.5 500 1334.4 505 1347.5C510 1360.6 510 1356.2 510 1370C510 1383.8 508.9 1376.9 505 1388.8C501.1 1400.7 501.6 1395.5 498.3 1405.6C495 1415.7 501.8 1411.7 495 1419C488.2 1426.3 491.5 1423.5 478 1427.4C464.5 1431.3 468 1429.6 454.6 1430.7C441.2 1431.8 443.4 1430.7 437.8 1430.7" fill="none" stroke="#b8431e" stroke-width="2.1" stroke-dasharray="12 8.5" stroke-dashoffset="0" stroke-linecap="butt"/>
<path d="M374 1270C373.3 1276.7 370.3 1277.7 372 1290C373.7 1302.3 376.7 1301.3 379 1307" fill="none" stroke="#b8431e" stroke-width="2.1" stroke-dasharray="12 8.5" stroke-dashoffset="0" stroke-linecap="butt"/>
<path d="M380.7 1273.7C385.1 1271.5 385 1264.9 394 1267C403 1269.1 399.7 1270 407.6 1280C415.5 1290 411 1284.7 417.7 1297C424.4 1309.3 420.4 1304.3 427.8 1317C435.2 1329.7 435.9 1329 440 1335" fill="none" stroke="#b8431e" stroke-width="2.1" stroke-dasharray="12 8.5" stroke-dashoffset="0" stroke-linecap="butt"/>
<path d="M384 1280 L392.5 1277" fill="none" stroke="#b8431e" stroke-width="2.1" stroke-dasharray="12 8.5" stroke-dashoffset="0" stroke-linecap="butt"/>
<path d="M450 1305C455 1310 455.7 1308.3 465 1320C474.3 1331.7 471.3 1325 478 1340C484.7 1355 485 1348.3 485 1365C485 1381.7 484.7 1375.7 478 1390C471.3 1404.3 469.3 1402 465 1408" fill="none" stroke="#b8431e" stroke-width="2.1" stroke-dasharray="12 8.5" stroke-dashoffset="0" stroke-linecap="butt"/>
<path d="M185.4 1442.7C186.5 1428.9 186.3 1438 190.9 1430.7C195.5 1423.4 192.6 1425.7 199.3 1420.7C206 1415.7 200.4 1417.3 211 1415.6C221.6 1413.9 215.5 1413.9 231.2 1415.6C246.9 1417.3 242.3 1416.8 258 1420.7C273.7 1424.6 267 1425.7 278.2 1427.4C289.4 1429.1 280.9 1434.7 291.6 1425.7C302.3 1416.7 296.2 1411.7 310.2 1400.5C324.2 1389.3 317.1 1393.8 333.7 1392C350.3 1390.2 342.9 1389 360 1395C377.1 1401 372.3 1396.7 385 1410C397.7 1423.3 392.6 1417 398 1435C403.4 1453 399.5 1450 401.3 1463.9C403.1 1477.8 402.1 1466.7 403.5 1476.6C404.9 1486.5 407.8 1480.8 405.6 1493.5C403.4 1506.2 401.2 1502 397 1514.7C392.8 1527.4 395 1518.9 392.9 1531.6C390.8 1544.3 396.4 1540.8 390.8 1552.8C385.2 1564.8 389.4 1561.3 376 1567.6C362.6 1573.9 373.2 1571.1 350.5 1571.8C327.8 1572.5 336.2 1571.1 308 1569.7C279.8 1568.3 292.6 1569 265.8 1567.6C239 1566.2 248.9 1568.4 227.7 1565.5C206.5 1562.6 214.3 1564.7 202.3 1559C190.3 1553.3 195.3 1557.6 191.8 1548.5C188.3 1539.4 189.7 1542.9 191.8 1531.6C193.9 1520.3 196.6 1526 198 1514.7C199.4 1503.4 199.5 1511.9 196 1497.7C192.5 1483.5 191 1490.3 187.5 1472C184 1453.7 184.3 1456.5 185.4 1442.7Z" fill="#5ea945" fill-opacity="0.5"/>
<path d="M185.4 1442.7C186.5 1428.9 186.3 1438 190.9 1430.7C195.5 1423.4 192.6 1425.7 199.3 1420.7C206 1415.7 200.4 1417.3 211 1415.6C221.6 1413.9 215.5 1413.9 231.2 1415.6C246.9 1417.3 242.3 1416.8 258 1420.7C273.7 1424.6 267 1425.7 278.2 1427.4C289.4 1429.1 280.9 1434.7 291.6 1425.7C302.3 1416.7 296.2 1411.7 310.2 1400.5C324.2 1389.3 317.1 1393.8 333.7 1392C350.3 1390.2 342.9 1389 360 1395C377.1 1401 372.3 1396.7 385 1410C397.7 1423.3 392.6 1417 398 1435C403.4 1453 399.5 1450 401.3 1463.9C403.1 1477.8 402.1 1466.7 403.5 1476.6C404.9 1486.5 407.8 1480.8 405.6 1493.5C403.4 1506.2 401.2 1502 397 1514.7C392.8 1527.4 395 1518.9 392.9 1531.6C390.8 1544.3 396.4 1540.8 390.8 1552.8C385.2 1564.8 389.4 1561.3 376 1567.6C362.6 1573.9 373.2 1571.1 350.5 1571.8C327.8 1572.5 336.2 1571.1 308 1569.7C279.8 1568.3 292.6 1569 265.8 1567.6C239 1566.2 248.9 1568.4 227.7 1565.5C206.5 1562.6 214.3 1564.7 202.3 1559C190.3 1553.3 195.3 1557.6 191.8 1548.5C188.3 1539.4 189.7 1542.9 191.8 1531.6C193.9 1520.3 196.6 1526 198 1514.7C199.4 1503.4 199.5 1511.9 196 1497.7C192.5 1483.5 191 1490.3 187.5 1472C184 1453.7 184.3 1456.5 185.4 1442.7Z" fill="none" stroke="#b9c4b4" stroke-width="2" stroke-dasharray="13 3.5" stroke-opacity="0.85"/>
<path d="M407.7 1451C407 1455.3 405.5 1454.2 405.6 1463.9C405.7 1473.6 407.2 1474.6 408 1480" fill="none" stroke="#4a7a32" stroke-width="2.1" stroke-dasharray="12 8.5" stroke-dashoffset="0" stroke-linecap="butt"/>
<path d="M405.6 1540C402.7 1545.7 405.5 1546.4 397 1557C388.5 1567.6 398.3 1564.8 380 1571.8C361.7 1578.8 368.8 1575.9 342 1578C315.2 1580.1 329.4 1579.3 299.7 1578C270 1576.7 281.2 1576.1 253 1574C224.8 1571.9 236.1 1576.1 215 1571.8C193.9 1567.5 200.9 1568.8 189.6 1561C178.3 1553.2 184.3 1556.9 181.2 1548.5C178.1 1540.1 178.2 1545 180.3 1535.8C182.4 1526.6 185.8 1530.9 187.5 1521C189.2 1511.1 188.9 1518 185.4 1506C181.9 1494 180.5 1501.9 177 1485C173.5 1468.1 174.5 1472.1 174.8 1455.4C175.1 1438.7 172.9 1447.5 178 1435C183.1 1422.5 181 1427 190 1418C199 1409 191.7 1413 205 1408C218.3 1403 213.3 1405.7 230 1403C246.7 1400.3 240 1402.7 255 1400C270 1397.3 268.3 1396.7 275 1395" fill="none" stroke="#4a7a32" stroke-width="2.1" stroke-dasharray="12 8.5" stroke-dashoffset="0" stroke-linecap="butt"/>
<path d="M388.6 1485C387.7 1495 387.4 1495.2 386 1515C384.6 1534.8 389.2 1529.6 384.4 1544.3C379.6 1559 387.2 1552.6 371.7 1559C356.2 1565.4 360.4 1564.1 337.8 1563.4C315.2 1562.7 326.6 1560.5 304 1557C281.4 1553.5 292.6 1552.8 270 1552.8C247.4 1552.8 255.9 1557.7 236.2 1557C216.5 1556.3 221.4 1557.8 210.8 1550.7C200.2 1543.6 203.8 1546.4 204.5 1535.8C205.2 1525.2 210.9 1531.7 213 1519C215.1 1506.3 214.4 1513.4 210.8 1497.7C207.2 1482 205.8 1487.6 202.3 1472C198.8 1456.4 199.3 1464.3 200.2 1451C201.1 1437.7 198.4 1440.7 205 1432C211.6 1423.3 215 1427.3 220 1425" fill="none" stroke="#4a7a32" stroke-width="2.1" stroke-dasharray="12 8.5" stroke-dashoffset="0" stroke-linecap="butt"/>
<path d="M215 1459.6C217.8 1469.4 215.7 1472.1 223.5 1489C231.3 1505.9 225.6 1494.8 238.3 1510.4C251 1526 245.4 1522.4 261.6 1535.8C277.8 1549.2 270.1 1543 287 1550.7C303.9 1558.4 303.9 1556.2 312.4 1559" fill="none" stroke="#4a7a32" stroke-width="2.1" stroke-dasharray="12 8.5" stroke-dashoffset="0" stroke-linecap="butt"/>
<path d="M287 1459.6C292.7 1462.4 292.7 1462.3 304 1468C315.3 1473.7 311 1466.7 320.9 1476.6C330.8 1486.5 323.7 1485 333.6 1497.7C343.5 1510.4 339.2 1505.6 350.5 1514.7C361.8 1523.8 361.8 1521.6 367.5 1525" fill="none" stroke="#4a7a32" stroke-width="2.1" stroke-dasharray="12 8.5" stroke-dashoffset="0" stroke-linecap="butt"/>
<path d="M95.2 1419C95.2 1410.6 95.2 1413.4 103.6 1405.6C112 1397.8 107 1401.7 120.4 1395.5C133.8 1389.3 130.5 1392 143.9 1387C157.3 1382 150.7 1386 160.7 1380.4C170.7 1374.8 162.8 1376.4 174 1370.3C185.2 1364.2 179.7 1366.5 194.3 1362C208.9 1357.5 201 1359.7 217.8 1356.9C234.6 1354.1 226.7 1356.1 244.6 1353.5C262.5 1350.9 253 1352 271.5 1349C290 1346 280.5 1346.2 300 1344.5C319.5 1342.8 310 1343.2 330 1344C350 1344.8 340 1342.7 360 1347C380 1351.3 371.7 1347.7 390 1357C408.3 1366.3 402.3 1362.3 415 1375C427.7 1387.7 422.3 1380 428 1395C433.7 1410 431.5 1405.8 432 1420C432.5 1434.2 431.9 1428.9 429.4 1437.5C426.9 1446.1 430.5 1442 424.4 1445.8C418.3 1449.6 420 1446.3 411 1449C402 1451.7 411.2 1450.7 397.5 1454C383.8 1457.3 390.8 1456.3 370 1459C349.2 1461.7 358.3 1460.8 335 1462C311.7 1463.2 319 1462.4 300 1462.6C281 1462.8 294.2 1463.7 278 1462.6C261.8 1461.5 270.3 1462.6 251.3 1459.3C232.3 1456 241.8 1457.7 221 1452.6C200.2 1447.5 205.8 1447.4 189 1444C172.2 1440.6 185.7 1443.6 170.7 1442.5C155.7 1441.4 160.7 1442.5 143.9 1440.8C127.1 1439.1 133.8 1440.9 120.4 1437.5C107 1434.1 112 1436.9 103.6 1430.7C95.2 1424.5 95.2 1427.4 95.2 1419Z" fill="#6880c4" fill-opacity="0.5"/>
<path d="M95.2 1419C95.2 1410.6 95.2 1413.4 103.6 1405.6C112 1397.8 107 1401.7 120.4 1395.5C133.8 1389.3 130.5 1392 143.9 1387C157.3 1382 150.7 1386 160.7 1380.4C170.7 1374.8 162.8 1376.4 174 1370.3C185.2 1364.2 179.7 1366.5 194.3 1362C208.9 1357.5 201 1359.7 217.8 1356.9C234.6 1354.1 226.7 1356.1 244.6 1353.5C262.5 1350.9 253 1352 271.5 1349C290 1346 280.5 1346.2 300 1344.5C319.5 1342.8 310 1343.2 330 1344C350 1344.8 340 1342.7 360 1347C380 1351.3 371.7 1347.7 390 1357C408.3 1366.3 402.3 1362.3 415 1375C427.7 1387.7 422.3 1380 428 1395C433.7 1410 431.5 1405.8 432 1420C432.5 1434.2 431.9 1428.9 429.4 1437.5C426.9 1446.1 430.5 1442 424.4 1445.8C418.3 1449.6 420 1446.3 411 1449C402 1451.7 411.2 1450.7 397.5 1454C383.8 1457.3 390.8 1456.3 370 1459C349.2 1461.7 358.3 1460.8 335 1462C311.7 1463.2 319 1462.4 300 1462.6C281 1462.8 294.2 1463.7 278 1462.6C261.8 1461.5 270.3 1462.6 251.3 1459.3C232.3 1456 241.8 1457.7 221 1452.6C200.2 1447.5 205.8 1447.4 189 1444C172.2 1440.6 185.7 1443.6 170.7 1442.5C155.7 1441.4 160.7 1442.5 143.9 1440.8C127.1 1439.1 133.8 1440.9 120.4 1437.5C107 1434.1 112 1436.9 103.6 1430.7C95.2 1424.5 95.2 1427.4 95.2 1419Z" fill="none" stroke="#d6a8b0" stroke-width="2" stroke-dasharray="13 3.5" stroke-opacity="0.85"/>
<path d="M352 1341.5C341.3 1340.8 340.1 1340.5 320 1339.5C299.9 1338.5 307.8 1338.2 291.6 1338.4C275.4 1338.6 278.2 1339.5 271.5 1340" fill="none" stroke="#6f5fb9" stroke-width="2.1" stroke-dasharray="12 8.5" stroke-dashoffset="0" stroke-linecap="butt"/>
<path d="M224.5 1350C217.8 1351.2 218.9 1351.2 204.3 1353.5C189.7 1355.8 196.5 1353.5 180.8 1356.9C165.1 1360.3 171.8 1356.9 157.3 1363.6C142.8 1370.3 151.7 1369.2 137.2 1377C122.7 1384.8 128.3 1382 113.7 1387C99.1 1392 104.7 1387 93.5 1392C82.3 1397 85.6 1393.6 80 1402C74.4 1410.4 76.7 1407.7 76.7 1417.3C76.7 1426.9 75.6 1422.9 80 1430.7C84.4 1438.5 82.1 1435.4 90 1440.8C97.9 1446.2 90.1 1444.7 103.6 1446.9C117.1 1449.1 112.5 1447.9 130.4 1447.5C148.3 1447.1 140.5 1446.4 157.3 1445.8C174.1 1445.2 165.1 1443.5 180.8 1445.8C196.5 1448.1 187.5 1448.1 204.3 1452.6C221.1 1457.1 213.3 1455.4 231.2 1459.3C249.1 1463.2 242.3 1460.9 258 1464.3C273.7 1467.7 260.9 1466.8 278.2 1469.4C295.5 1472 287.7 1471.8 310 1472C332.3 1472.2 321.7 1472.7 345 1470C368.3 1467.3 358.6 1468.7 380 1464C401.4 1459.3 396.7 1460.3 409.3 1456C421.9 1451.7 409.3 1455 417.7 1451C426.1 1447 424.4 1448.5 434.5 1444C444.6 1439.5 443.5 1439.7 448 1437.5" fill="none" stroke="#6f5fb9" stroke-width="2.1" stroke-dasharray="12 8.5" stroke-dashoffset="0" stroke-linecap="butt"/>
<path d="M285 1355C276 1356.2 275.9 1355.1 258 1358.5C240.1 1361.9 246.9 1361.4 231.2 1365.3C215.5 1369.2 222.2 1366.4 211 1370.3C199.8 1374.2 207.7 1371.4 197.6 1377C187.5 1382.6 195.3 1380.3 180.8 1387C166.3 1393.7 169.7 1390.3 154 1397C138.3 1403.7 144.5 1400.2 133.8 1407C123.1 1413.8 125.4 1411.1 122 1417.3C118.6 1423.5 118.6 1421.2 123.7 1425.7C128.8 1430.2 126 1427.9 137.2 1430.7C148.4 1433.5 142.8 1431.7 157.3 1434C171.8 1436.3 163.2 1433.8 180.8 1437.5C198.4 1441.2 186.9 1440.2 210 1445C233.1 1449.8 223.3 1448.7 250 1452C276.7 1455.3 263.3 1455 290 1455C316.7 1455 303.3 1454.7 330 1452C356.7 1449.3 356.7 1448.7 370 1447" fill="none" stroke="#6f5fb9" stroke-width="2.1" stroke-dasharray="12 8.5" stroke-dashoffset="0" stroke-linecap="butt"/>
<path d="M248 1373.7C239.3 1377.5 238.8 1377.2 222 1385C205.2 1392.8 210.8 1388.5 197.6 1397C184.4 1405.5 186.4 1402.3 182.5 1410.6C178.6 1418.9 178.5 1415.5 186 1422C193.5 1428.5 187 1424.7 205 1430C223 1435.3 215 1433.7 240 1438C265 1442.3 253.3 1441.7 280 1443C306.7 1444.3 306.7 1442.3 320 1442" fill="none" stroke="#6f5fb9" stroke-width="2.1" stroke-dasharray="12 8.5" stroke-dashoffset="0" stroke-linecap="butt"/>
<g stroke="#3a3a3a" stroke-width="1.1" fill="none">
<path d="M80.5 1241V1568H660.5"/>
<path d="M124.1 1568v-5.8M149.7 1568v-5.8M167.8 1568v-5.8M181.9 1568v-5.8M193.3 1568v-5.8M203 1568v-5.8M211.4 1568v-5.8M218.9 1568v-5.8M225.5 1568v-9.5M269.1 1568v-5.8M294.7 1568v-5.8M312.8 1568v-5.8M326.9 1568v-5.8M338.3 1568v-5.8M348 1568v-5.8M356.4 1568v-5.8M363.9 1568v-5.8M370.5 1568v-9.5M414.1 1568v-5.8M439.7 1568v-5.8M457.8 1568v-5.8M471.9 1568v-5.8M483.3 1568v-5.8M493 1568v-5.8M501.4 1568v-5.8M508.9 1568v-5.8M515.5 1568v-9.5M559.1 1568v-5.8M584.7 1568v-5.8M602.8 1568v-5.8M616.9 1568v-5.8M628.3 1568v-5.8M638 1568v-5.8M646.4 1568v-5.8M653.9 1568v-5.8M80.5 1535.2h5.8M80.5 1516h5.8M80.5 1502.4h5.8M80.5 1491.8h5.8M80.5 1483.2h5.8M80.5 1475.9h5.8M80.5 1469.6h5.8M80.5 1464h5.8M80.5 1459h10M80.5 1426.2h5.8M80.5 1407h5.8M80.5 1393.4h5.8M80.5 1382.8h5.8M80.5 1374.2h5.8M80.5 1366.9h5.8M80.5 1360.6h5.8M80.5 1355h5.8M80.5 1350h10M80.5 1317.2h5.8M80.5 1298h5.8M80.5 1284.4h5.8M80.5 1273.8h5.8M80.5 1265.2h5.8M80.5 1257.9h5.8M80.5 1251.6h5.8M80.5 1246h5.8M80.5 1241h10"/>
</g>
<text x="82.5" y="1591.5" font-size="16" text-anchor="middle">0.001</text>
<text x="225.5" y="1591.5" font-size="16" text-anchor="middle">0.010</text>
<text x="375" y="1591.5" font-size="16" text-anchor="middle">0.100</text>
<text x="518" y="1591.5" font-size="16" text-anchor="middle">1.000</text>
<text x="661" y="1591.5" font-size="16" text-anchor="middle">10.000</text>
<text x="74.5" y="1573" font-size="16" text-anchor="end">0.01</text>
<text x="74.5" y="1464" font-size="16" text-anchor="end">0.10</text>
<text x="74.5" y="1351.5" font-size="16" text-anchor="end">1.00</text>
<text x="74.5" y="1248" font-size="16" text-anchor="end">10.00</text>
<text x="370.5" y="1614.5" font-size="16.4" text-anchor="middle">Sc/Yb</text>
<text x="24" y="1404.5" font-size="16.4" text-anchor="middle" transform="rotate(-90 24 1404.5)">U/Yb</text>
<g fill="#30276f"><circle cx="133.8" cy="1380.4" r="4.2"/><circle cx="236.2" cy="1366.3" r="4.2"/><circle cx="236.9" cy="1382" r="4.2"/><circle cx="222" cy="1392" r="4.2"/><circle cx="223.5" cy="1408" r="4.2"/><circle cx="258" cy="1419" r="4.2"/><circle cx="262.4" cy="1403.9" r="4.2"/><circle cx="274.8" cy="1394.8" r="4.2"/><circle cx="279.9" cy="1399.5" r="4.2"/><circle cx="277.5" cy="1407" r="4.2"/><circle cx="278.2" cy="1415.6" r="4.2"/><circle cx="290" cy="1398.8" r="4.2"/><circle cx="291.6" cy="1389.8" r="4.2"/><circle cx="295.6" cy="1387" r="4.2"/><circle cx="295" cy="1347.5" r="4.2"/><circle cx="303.5" cy="1298.8" r="4.2"/><circle cx="460.3" cy="1278" r="4.2"/><circle cx="407" cy="1296.5" r="4.2"/><circle cx="345.5" cy="1317" r="4.2"/><circle cx="393" cy="1317" r="4.2"/><circle cx="382.4" cy="1327" r="4.2"/><circle cx="409.3" cy="1316.6" r="4.2"/><circle cx="437" cy="1309" r="4.2"/><circle cx="432.8" cy="1314" r="4.2"/><circle cx="463" cy="1311.6" r="4.2"/><circle cx="461.3" cy="1320" r="4.2"/><circle cx="447" cy="1320" r="4.2"/><circle cx="441.2" cy="1324" r="4.2"/><circle cx="454.6" cy="1327" r="4.2"/><circle cx="426" cy="1330" r="4.2"/><circle cx="434.5" cy="1330.7" r="4.2"/><circle cx="417.7" cy="1337.5" r="4.2"/><circle cx="406" cy="1337.5" r="4.2"/><circle cx="471.4" cy="1332.4" r="4.2"/><circle cx="479.8" cy="1336.8" r="4.2"/><circle cx="464" cy="1344" r="4.2"/><circle cx="474" cy="1349" r="4.2"/><circle cx="485.5" cy="1355" r="4.2"/><circle cx="490" cy="1366" r="4.2"/><circle cx="500.6" cy="1358.6" r="4.2"/><circle cx="510" cy="1322" r="4.2"/><circle cx="497.6" cy="1411.6" r="4.2"/><circle cx="463" cy="1427.4" r="4.2"/><circle cx="451.3" cy="1427.4" r="4.2"/><circle cx="426.7" cy="1441.8" r="4.2"/><circle cx="370" cy="1474.4" r="4.2"/><circle cx="420.4" cy="1480.8" r="4.2"/><circle cx="307.5" cy="1433.4" r="4.2"/><circle cx="343" cy="1433.4" r="4.2"/><circle cx="360.6" cy="1427.4" r="4.2"/><circle cx="364" cy="1450" r="4.2"/><circle cx="374" cy="1450" r="4.2"/><circle cx="382.4" cy="1456" r="4.2"/><circle cx="390.8" cy="1451" r="4.2"/><circle cx="389" cy="1432.4" r="4.2"/><circle cx="397.5" cy="1434" r="4.2"/><circle cx="293.4" cy="1388.8" r="4.2"/><circle cx="281.7" cy="1398.8" r="4.2"/><circle cx="300.8" cy="1401" r="4.2"/><circle cx="307.5" cy="1410.6" r="4.2"/><circle cx="317" cy="1409" r="4.2"/><circle cx="323.7" cy="1415.6" r="4.2"/><circle cx="327" cy="1420.7" r="4.2"/><circle cx="342" cy="1410.6" r="4.2"/><circle cx="345.5" cy="1419" r="4.2"/><circle cx="352" cy="1419" r="4.2"/><circle cx="468" cy="1385.4" r="4.2"/><circle cx="473" cy="1392.8" r="4.2"/><circle cx="564" cy="1301.4" r="4.2"/><circle cx="505.3" cy="1323.8" r="4.2"/><circle cx="526.7" cy="1378.8" r="4.2"/><circle cx="496.8" cy="1411" r="4.2"/><circle cx="398.2" cy="1382.5" r="4.2"/><circle cx="399.5" cy="1410.5" r="4.2"/><circle cx="398.9" cy="1340.1" r="4.2"/><circle cx="417.3" cy="1379.4" r="4.2"/><circle cx="395.3" cy="1391.7" r="4.2"/><circle cx="413.3" cy="1425.2" r="4.2"/><circle cx="430.3" cy="1391.5" r="4.2"/><circle cx="374.5" cy="1355.5" r="4.2"/><circle cx="405.7" cy="1384.6" r="4.2"/><circle cx="425.3" cy="1341.5" r="4.2"/><circle cx="391.5" cy="1403.7" r="4.2"/><circle cx="438.9" cy="1380.3" r="4.2"/><circle cx="419.1" cy="1395.9" r="4.2"/><circle cx="435.3" cy="1352.4" r="4.2"/><circle cx="367.4" cy="1416" r="4.2"/><circle cx="408.6" cy="1414.2" r="4.2"/><circle cx="429.5" cy="1399.2" r="4.2"/><circle cx="378.9" cy="1365" r="4.2"/><circle cx="385.2" cy="1404" r="4.2"/><circle cx="434.7" cy="1433.5" r="4.2"/><circle cx="424.2" cy="1414.7" r="4.2"/><circle cx="461.1" cy="1385" r="4.2"/><circle cx="347.1" cy="1371" r="4.2"/><circle cx="405.3" cy="1396.1" r="4.2"/><circle cx="391.4" cy="1411.2" r="4.2"/><circle cx="428.8" cy="1368.5" r="4.2"/><circle cx="442.1" cy="1369.9" r="4.2"/><circle cx="375.1" cy="1378.6" r="4.2"/><circle cx="451.7" cy="1387.4" r="4.2"/><circle cx="447.4" cy="1416.6" r="4.2"/><circle cx="414.9" cy="1355.6" r="4.2"/><circle cx="440.1" cy="1400.2" r="4.2"/><circle cx="383.3" cy="1351.9" r="4.2"/><circle cx="436.7" cy="1410" r="4.2"/><circle cx="378.9" cy="1387.9" r="4.2"/><circle cx="386.2" cy="1376.3" r="4.2"/><circle cx="407.9" cy="1348.3" r="4.2"/><circle cx="439.4" cy="1388.1" r="4.2"/><circle cx="399.1" cy="1398.3" r="4.2"/><circle cx="443.6" cy="1406.9" r="4.2"/><circle cx="465.3" cy="1410.8" r="4.2"/><circle cx="406.1" cy="1371.3" r="4.2"/><circle cx="354.1" cy="1394.3" r="4.2"/><circle cx="379.6" cy="1398.3" r="4.2"/><circle cx="341.2" cy="1375.3" r="4.2"/><circle cx="359.3" cy="1402.7" r="4.2"/><circle cx="424.7" cy="1403.7" r="4.2"/><circle cx="376" cy="1424.3" r="4.2"/><circle cx="455" cy="1407.5" r="4.2"/><circle cx="408.5" cy="1435.4" r="4.2"/><circle cx="408.7" cy="1404.6" r="4.2"/><circle cx="451.8" cy="1371.6" r="4.2"/><circle cx="334.9" cy="1397.6" r="4.2"/><circle cx="413.2" cy="1368.5" r="4.2"/><circle cx="422.1" cy="1386.6" r="4.2"/><circle cx="374.2" cy="1404.7" r="4.2"/><circle cx="420" cy="1420.5" r="4.2"/><circle cx="329.5" cy="1410.2" r="4.2"/><circle cx="391.8" cy="1384.8" r="4.2"/><circle cx="397.3" cy="1443.8" r="4.2"/><circle cx="363.7" cy="1397.4" r="4.2"/><circle cx="455.6" cy="1379.8" r="4.2"/><circle cx="325.7" cy="1386.9" r="4.2"/><circle cx="354.4" cy="1361" r="4.2"/><circle cx="422" cy="1436.7" r="4.2"/><circle cx="388" cy="1364.2" r="4.2"/><circle cx="377" cy="1436.9" r="4.2"/><circle cx="435.3" cy="1344.8" r="4.2"/><circle cx="417.8" cy="1363.4" r="4.2"/><circle cx="398.5" cy="1366.9" r="4.2"/><circle cx="401.2" cy="1347.5" r="4.2"/><circle cx="426.1" cy="1375" r="4.2"/><circle cx="357.7" cy="1412.7" r="4.2"/><circle cx="370.9" cy="1394.7" r="4.2"/><circle cx="428.7" cy="1384.3" r="4.2"/><circle cx="421.5" cy="1311.2" r="4.2"/><circle cx="474.6" cy="1358.6" r="4.2"/><circle cx="436.1" cy="1363.8" r="4.2"/><circle cx="457.5" cy="1335.1" r="4.2"/><circle cx="488.9" cy="1388.2" r="4.2"/><circle cx="472.1" cy="1402.1" r="4.2"/><circle cx="446.7" cy="1346.2" r="4.2"/><circle cx="469.8" cy="1376.4" r="4.2"/><circle cx="482.2" cy="1347.1" r="4.2"/><circle cx="457.6" cy="1362.3" r="4.2"/><circle cx="480.5" cy="1376.3" r="4.2"/><circle cx="459.3" cy="1352.9" r="4.2"/><circle cx="429.3" cy="1303.4" r="4.2"/><circle cx="451.1" cy="1357.5" r="4.2"/><circle cx="410.4" cy="1326.4" r="4.2"/><circle cx="446" cy="1333.5" r="4.2"/><circle cx="405.2" cy="1362.4" r="4.2"/><circle cx="457" cy="1396.7" r="4.2"/><circle cx="430.2" cy="1323.2" r="4.2"/><circle cx="463.3" cy="1370.3" r="4.2"/><circle cx="469.2" cy="1321.5" r="4.2"/><circle cx="424.9" cy="1351.9" r="4.2"/><circle cx="384.1" cy="1400.8" r="4.2"/><circle cx="361.2" cy="1374.2" r="4.2"/><circle cx="373" cy="1382.9" r="4.2"/><circle cx="394.8" cy="1361.4" r="4.2"/><circle cx="407" cy="1358.2" r="4.2"/><circle cx="415" cy="1370" r="4.2"/><circle cx="408" cy="1400.4" r="4.2"/><circle cx="396.2" cy="1376.9" r="4.2"/><circle cx="377" cy="1364.7" r="4.2"/><circle cx="444.7" cy="1404.1" r="4.2"/><circle cx="409.6" cy="1377.1" r="4.2"/><circle cx="392.2" cy="1354.7" r="4.2"/><circle cx="428.5" cy="1413.2" r="4.2"/><circle cx="422.1" cy="1396.3" r="4.2"/><circle cx="371" cy="1369.4" r="4.2"/><circle cx="424.3" cy="1415.9" r="4.2"/><circle cx="364.5" cy="1407.9" r="4.2"/><circle cx="371" cy="1390.9" r="4.2"/><circle cx="413.9" cy="1391.6" r="4.2"/><circle cx="355.3" cy="1399.2" r="4.2"/></g>
<g fill="#e1262d"><circle cx="189.9" cy="1416.6" r="3.0"/><circle cx="213.7" cy="1368.6" r="3.0"/><circle cx="236.2" cy="1389.8" r="3.0"/><circle cx="238.6" cy="1364.6" r="3.0"/><circle cx="255.7" cy="1353.5" r="3.0"/><circle cx="267.4" cy="1343.4" r="3.0"/><circle cx="280.5" cy="1345.8" r="3.0"/><circle cx="291" cy="1345" r="3.0"/><circle cx="265.4" cy="1398" r="3.0"/><circle cx="273" cy="1413.3" r="3.0"/><circle cx="304" cy="1302" r="3.0"/><circle cx="448" cy="1302" r="3.0"/><circle cx="328" cy="1322.3" r="3.0"/><circle cx="327" cy="1333.4" r="3.0"/><circle cx="356.6" cy="1321.3" r="3.0"/><circle cx="437.8" cy="1332.4" r="3.0"/><circle cx="380.7" cy="1339" r="3.0"/><circle cx="456.3" cy="1359" r="3.0"/><circle cx="301.8" cy="1430.7" r="3.0"/><circle cx="332" cy="1440.8" r="3.0"/><circle cx="349.8" cy="1447.5" r="3.0"/><circle cx="394" cy="1441.8" r="3.0"/><circle cx="342" cy="1420.7" r="3.0"/><circle cx="414.3" cy="1406.6" r="3.0"/><circle cx="454" cy="1402" r="3.0"/><circle cx="468" cy="1377" r="3.0"/><circle cx="447" cy="1352.8" r="3.0"/><circle cx="296.8" cy="1348.5" r="3.0"/><circle cx="306.9" cy="1351.8" r="3.0"/><circle cx="290" cy="1367.6" r="3.0"/><circle cx="310.9" cy="1378" r="3.0"/><circle cx="322" cy="1355" r="3.0"/><circle cx="332" cy="1345" r="3.0"/><circle cx="340.4" cy="1350" r="3.0"/><circle cx="330.4" cy="1377" r="3.0"/><circle cx="325.3" cy="1375.3" r="3.0"/><circle cx="327" cy="1392" r="3.0"/><circle cx="328.7" cy="1402" r="3.0"/><circle cx="342" cy="1398.8" r="3.0"/><circle cx="360.6" cy="1404.5" r="3.0"/><circle cx="347" cy="1343.4" r="3.0"/><circle cx="362.3" cy="1342.8" r="3.0"/><circle cx="348.2" cy="1386.7" r="3.0"/><circle cx="345.2" cy="1362.3" r="3.0"/><circle cx="325" cy="1414.3" r="3.0"/><circle cx="340.1" cy="1406.4" r="3.0"/><circle cx="327.2" cy="1360.2" r="3.0"/><circle cx="356.8" cy="1362.9" r="3.0"/><circle cx="359.5" cy="1374.8" r="3.0"/><circle cx="319.7" cy="1346" r="3.0"/><circle cx="341.5" cy="1388.5" r="3.0"/><circle cx="325.9" cy="1384.6" r="3.0"/><circle cx="307.2" cy="1385.1" r="3.0"/><circle cx="362" cy="1429.9" r="3.0"/><circle cx="368.4" cy="1404.3" r="3.0"/><circle cx="403.2" cy="1393.8" r="3.0"/><circle cx="451.1" cy="1385.6" r="3.0"/><circle cx="391.8" cy="1368.1" r="3.0"/><circle cx="390.4" cy="1380.1" r="3.0"/><circle cx="416.8" cy="1385.1" r="3.0"/><circle cx="374.8" cy="1348.8" r="3.0"/><circle cx="390.1" cy="1349.8" r="3.0"/><circle cx="423.9" cy="1358.4" r="3.0"/><circle cx="405.7" cy="1414.3" r="3.0"/><circle cx="368.4" cy="1424.6" r="3.0"/><circle cx="377.8" cy="1364.1" r="3.0"/><circle cx="406.9" cy="1399.1" r="3.0"/><circle cx="389.5" cy="1421.3" r="3.0"/><circle cx="375.9" cy="1389.5" r="3.0"/><circle cx="423.9" cy="1396.1" r="3.0"/><circle cx="432.8" cy="1399.7" r="3.0"/><circle cx="343.5" cy="1378.7" r="3.0"/><circle cx="402" cy="1405.4" r="3.0"/><circle cx="453.3" cy="1378.8" r="3.0"/><circle cx="401.7" cy="1385.6" r="3.0"/><circle cx="425.2" cy="1404.4" r="3.0"/><circle cx="380.9" cy="1354.9" r="3.0"/><circle cx="354.8" cy="1412.2" r="3.0"/><circle cx="356.5" cy="1392.2" r="3.0"/><circle cx="459.6" cy="1389.2" r="3.0"/><circle cx="422.7" cy="1372.6" r="3.0"/><circle cx="371" cy="1354.9" r="3.0"/><circle cx="387.9" cy="1397.6" r="3.0"/><circle cx="345.4" cy="1371.9" r="3.0"/><circle cx="361.7" cy="1368.6" r="3.0"/><circle cx="417.1" cy="1360.5" r="3.0"/><circle cx="372" cy="1399.1" r="3.0"/></g>
<g fill="#30276f"><circle cx="357.7" cy="1406.4" r="4.2"/><circle cx="385.1" cy="1374" r="4.2"/><circle cx="405.6" cy="1396.2" r="4.2"/><circle cx="453.1" cy="1400.8" r="4.2"/><circle cx="431.9" cy="1364" r="4.2"/><circle cx="372.9" cy="1359.7" r="4.2"/><circle cx="376.4" cy="1375.5" r="4.2"/><circle cx="400.6" cy="1413.6" r="4.2"/><circle cx="373.1" cy="1402.8" r="4.2"/><circle cx="421" cy="1386.4" r="4.2"/><circle cx="409.2" cy="1422.5" r="4.2"/><circle cx="399.3" cy="1354.3" r="4.2"/><circle cx="402.7" cy="1402.8" r="4.2"/><circle cx="393.9" cy="1383.1" r="4.2"/><circle cx="401.9" cy="1418.4" r="4.2"/><circle cx="413" cy="1406.3" r="4.2"/><circle cx="404.7" cy="1422.7" r="4.2"/><circle cx="363" cy="1369.8" r="4.2"/><circle cx="367.9" cy="1381.6" r="4.2"/><circle cx="402" cy="1385.1" r="4.2"/><circle cx="377.3" cy="1369.8" r="4.2"/><circle cx="388.7" cy="1378.9" r="4.2"/><circle cx="429.1" cy="1401.4" r="4.2"/><circle cx="419" cy="1379.5" r="4.2"/><circle cx="430.8" cy="1425.2" r="4.2"/><circle cx="358.8" cy="1363.2" r="4.2"/><circle cx="414.4" cy="1376.9" r="4.2"/><circle cx="378.7" cy="1380.2" r="4.2"/><circle cx="411.6" cy="1357.7" r="4.2"/><circle cx="412.1" cy="1412.7" r="4.2"/><circle cx="447.7" cy="1374.8" r="4.2"/><circle cx="445.6" cy="1396.2" r="4.2"/><circle cx="416" cy="1427.4" r="4.2"/><circle cx="387.2" cy="1408.9" r="4.2"/><circle cx="383.2" cy="1388.9" r="4.2"/><circle cx="450.4" cy="1396.9" r="4.2"/><circle cx="398.2" cy="1394.8" r="4.2"/><circle cx="362.3" cy="1385.1" r="4.2"/><circle cx="386.9" cy="1366.3" r="4.2"/><circle cx="352.3" cy="1393.6" r="4.2"/><circle cx="416.9" cy="1349.2" r="4.2"/><circle cx="420.8" cy="1403.5" r="4.2"/><circle cx="440.7" cy="1390" r="4.2"/><circle cx="399.4" cy="1368.8" r="4.2"/><circle cx="381.1" cy="1404.9" r="4.2"/><circle cx="427.6" cy="1359" r="4.2"/><circle cx="389.4" cy="1401" r="4.2"/><circle cx="424.6" cy="1375.3" r="4.2"/><circle cx="377.7" cy="1391.7" r="4.2"/><circle cx="393" cy="1423.4" r="4.2"/><circle cx="417" cy="1356" r="4.2"/><circle cx="397.4" cy="1399.6" r="4.2"/><circle cx="354" cy="1379.8" r="4.2"/><circle cx="360.1" cy="1399.9" r="4.2"/><circle cx="452.8" cy="1380" r="4.2"/><circle cx="387.8" cy="1392.4" r="4.2"/><circle cx="446.2" cy="1383.4" r="4.2"/><circle cx="378.8" cy="1397.3" r="4.2"/><circle cx="437" cy="1396.5" r="4.2"/><circle cx="421.9" cy="1369.5" r="4.2"/><circle cx="390.1" cy="1373.2" r="4.2"/><circle cx="396.3" cy="1407.3" r="4.2"/><circle cx="406.1" cy="1373.5" r="4.2"/><circle cx="410.9" cy="1351.6" r="4.2"/><circle cx="415.7" cy="1386.2" r="4.2"/><circle cx="442.9" cy="1378.2" r="4.2"/><circle cx="378.4" cy="1385.6" r="4.2"/><circle cx="380.2" cy="1410.3" r="4.2"/><circle cx="391.2" cy="1414.2" r="4.2"/><circle cx="416.7" cy="1401.7" r="4.2"/><circle cx="432.4" cy="1376.5" r="4.2"/><circle cx="354.3" cy="1412.8" r="4.2"/><circle cx="426.5" cy="1385" r="4.2"/><circle cx="350.3" cy="1407" r="4.2"/><circle cx="415.7" cy="1420.5" r="4.2"/><circle cx="374.2" cy="1427" r="4.2"/><circle cx="364.7" cy="1395.1" r="4.2"/><circle cx="437.6" cy="1377.6" r="4.2"/><circle cx="370.4" cy="1398.2" r="4.2"/><circle cx="401.6" cy="1373.9" r="4.2"/><circle cx="412.4" cy="1396.7" r="4.2"/><circle cx="428.5" cy="1393.6" r="4.2"/><circle cx="431.5" cy="1388.5" r="4.2"/><circle cx="430.1" cy="1408.9" r="4.2"/><circle cx="406.1" cy="1389.3" r="4.2"/><circle cx="405" cy="1379.7" r="4.2"/><circle cx="430.7" cy="1382.2" r="4.2"/><circle cx="366.3" cy="1363.7" r="4.2"/><circle cx="383.2" cy="1425.9" r="4.2"/><circle cx="357.1" cy="1386.6" r="4.2"/><circle cx="439.3" cy="1371" r="4.2"/><circle cx="346.3" cy="1377.4" r="4.2"/><circle cx="395.1" cy="1388.1" r="4.2"/><circle cx="395" cy="1370.4" r="4.2"/><circle cx="402.1" cy="1429.9" r="4.2"/><circle cx="362.6" cy="1413.4" r="4.2"/><circle cx="403.8" cy="1349.3" r="4.2"/><circle cx="350.5" cy="1385.9" r="4.2"/><circle cx="347.1" cy="1392.4" r="4.2"/><circle cx="382.3" cy="1368.8" r="4.2"/><circle cx="383.6" cy="1350.2" r="4.2"/><circle cx="402.7" cy="1407.4" r="4.2"/><circle cx="380" cy="1359.1" r="4.2"/><circle cx="373.4" cy="1417.4" r="4.2"/><circle cx="421.3" cy="1353.8" r="4.2"/><circle cx="318.9" cy="1432.4" r="4.2"/><circle cx="324.1" cy="1403.4" r="4.2"/><circle cx="337.8" cy="1379.4" r="4.2"/><circle cx="332.4" cy="1407.4" r="4.2"/><circle cx="340.4" cy="1390" r="4.2"/><circle cx="308.9" cy="1383.9" r="4.2"/><circle cx="334.1" cy="1396.1" r="4.2"/><circle cx="316.7" cy="1395.7" r="4.2"/><circle cx="338.5" cy="1402.7" r="4.2"/><circle cx="307.3" cy="1423.3" r="4.2"/><circle cx="338.4" cy="1419.9" r="4.2"/><circle cx="316.4" cy="1377.4" r="4.2"/><circle cx="336.9" cy="1427.2" r="4.2"/><circle cx="310.8" cy="1403.2" r="4.2"/><circle cx="326.9" cy="1371" r="4.2"/><circle cx="355.1" cy="1370.2" r="4.2"/><circle cx="355.4" cy="1433.6" r="4.2"/><circle cx="328" cy="1386.6" r="4.2"/><circle cx="330.1" cy="1433.3" r="4.2"/><circle cx="345.8" cy="1400.5" r="4.2"/><circle cx="320.4" cy="1385.5" r="4.2"/><circle cx="345.7" cy="1370" r="4.2"/></g>
<g fill="#e1262d"><circle cx="212" cy="1387" r="3.0"/><circle cx="226" cy="1408" r="3.0"/><circle cx="242.3" cy="1393.8" r="3.0"/><circle cx="252" cy="1364.6" r="3.0"/><circle cx="263" cy="1349" r="3.0"/><circle cx="268" cy="1371" r="3.0"/><circle cx="285.2" cy="1349.5" r="3.0"/><circle cx="290.3" cy="1368" r="3.0"/><circle cx="271.5" cy="1393.8" r="3.0"/><circle cx="300" cy="1373.7" r="3.0"/><circle cx="333.7" cy="1282" r="3.0"/><circle cx="502.6" cy="1321.7" r="3.0"/><circle cx="320.3" cy="1332.4" r="3.0"/><circle cx="332" cy="1336.8" r="3.0"/><circle cx="362.3" cy="1321.3" r="3.0"/><circle cx="350.5" cy="1339" r="3.0"/><circle cx="448" cy="1354" r="3.0"/><circle cx="427.8" cy="1366.7" r="3.0"/><circle cx="328.7" cy="1446.9" r="3.0"/><circle cx="348.8" cy="1442.5" r="3.0"/><circle cx="380" cy="1445" r="3.0"/><circle cx="403" cy="1439" r="3.0"/><circle cx="399" cy="1421.7" r="3.0"/><circle cx="454.6" cy="1397" r="3.0"/><circle cx="437.8" cy="1406.6" r="3.0"/><circle cx="458" cy="1360" r="3.0"/><circle cx="290" cy="1346.8" r="3.0"/><circle cx="295" cy="1356" r="3.0"/><circle cx="310.2" cy="1359.5" r="3.0"/><circle cx="300" cy="1373" r="3.0"/><circle cx="317" cy="1363.6" r="3.0"/><circle cx="323.7" cy="1368.6" r="3.0"/><circle cx="334.4" cy="1355" r="3.0"/><circle cx="333.7" cy="1372" r="3.0"/><circle cx="338.8" cy="1369.6" r="3.0"/><circle cx="320.3" cy="1392" r="3.0"/><circle cx="322" cy="1400.5" r="3.0"/><circle cx="333.7" cy="1398.8" r="3.0"/><circle cx="352" cy="1404" r="3.0"/><circle cx="354" cy="1383.7" r="3.0"/><circle cx="352" cy="1340" r="3.0"/><circle cx="364" cy="1396.6" r="3.0"/><circle cx="330.2" cy="1424.8" r="3.0"/><circle cx="357.7" cy="1350.3" r="3.0"/><circle cx="305.8" cy="1410.3" r="3.0"/><circle cx="358.7" cy="1418.1" r="3.0"/><circle cx="319.6" cy="1407.1" r="3.0"/><circle cx="347.3" cy="1409.6" r="3.0"/><circle cx="346.2" cy="1393.2" r="3.0"/><circle cx="310.9" cy="1417.4" r="3.0"/><circle cx="313.5" cy="1398.2" r="3.0"/><circle cx="333.8" cy="1387.6" r="3.0"/><circle cx="335.6" cy="1361.9" r="3.0"/><circle cx="355.1" cy="1435.2" r="3.0"/><circle cx="414.9" cy="1376.6" r="3.0"/><circle cx="423.3" cy="1412" r="3.0"/><circle cx="378.4" cy="1404.9" r="3.0"/><circle cx="457" cy="1408.5" r="3.0"/><circle cx="414.9" cy="1392.6" r="3.0"/><circle cx="432.8" cy="1393.2" r="3.0"/><circle cx="393.8" cy="1390.6" r="3.0"/><circle cx="385.7" cy="1370.4" r="3.0"/><circle cx="368.3" cy="1372" r="3.0"/><circle cx="415.3" cy="1353" r="3.0"/><circle cx="407.1" cy="1381.9" r="3.0"/><circle cx="432" cy="1387.2" r="3.0"/><circle cx="421.7" cy="1419.1" r="3.0"/><circle cx="434.5" cy="1349.9" r="3.0"/><circle cx="392" cy="1411.2" r="3.0"/><circle cx="445.9" cy="1375.8" r="3.0"/><circle cx="405.4" cy="1368.8" r="3.0"/><circle cx="404.1" cy="1425.3" r="3.0"/><circle cx="412.2" cy="1365.7" r="3.0"/><circle cx="411" cy="1424.2" r="3.0"/><circle cx="387.1" cy="1415.6" r="3.0"/><circle cx="396" cy="1399.7" r="3.0"/><circle cx="382.5" cy="1419.7" r="3.0"/><circle cx="423.3" cy="1430.8" r="3.0"/><circle cx="434.1" cy="1379" r="3.0"/><circle cx="371.4" cy="1361" r="3.0"/><circle cx="379.7" cy="1377.2" r="3.0"/><circle cx="376.4" cy="1418" r="3.0"/><circle cx="372.4" cy="1383.7" r="3.0"/><circle cx="390.6" cy="1403.1" r="3.0"/><circle cx="386.7" cy="1385.6" r="3.0"/><circle cx="426" cy="1389.6" r="3.0"/></g>
<path d="M370.6 1241V1568" stroke="#628bd0" stroke-width="3" stroke-dasharray="4.5 4" fill="none"/>
<g fill="#30276f"><circle cx="133.3" cy="1273.4" r="3.8"/></g>
<g fill="#e1262d"><circle cx="133.3" cy="1295" r="3.0"/></g>
<text x="144.8" y="1278.6" font-size="16.4" text-anchor="start">Jack Hills</text>
<text x="144.8" y="1300.2" font-size="16.4" text-anchor="start">Barberton</text>
<text x="175.7" y="1331.3" font-size="16.4" text-anchor="start">OI-type</text>
<text x="227" y="1344.8" font-size="16.4" text-anchor="start">95%</text>
<text x="413.3" y="1257.5" font-size="16.4" text-anchor="start">95%</text>
<text x="447" y="1268.6" font-size="16.4" text-anchor="start">CAS-type</text>
<text x="408" y="1544.5" font-size="16.4" text-anchor="start">MOR-type</text>
<text x="422" y="1526" font-size="16.4" text-anchor="start" transform="rotate(-82 422 1526)">95%</text>
</g>
</svg></body></html>
